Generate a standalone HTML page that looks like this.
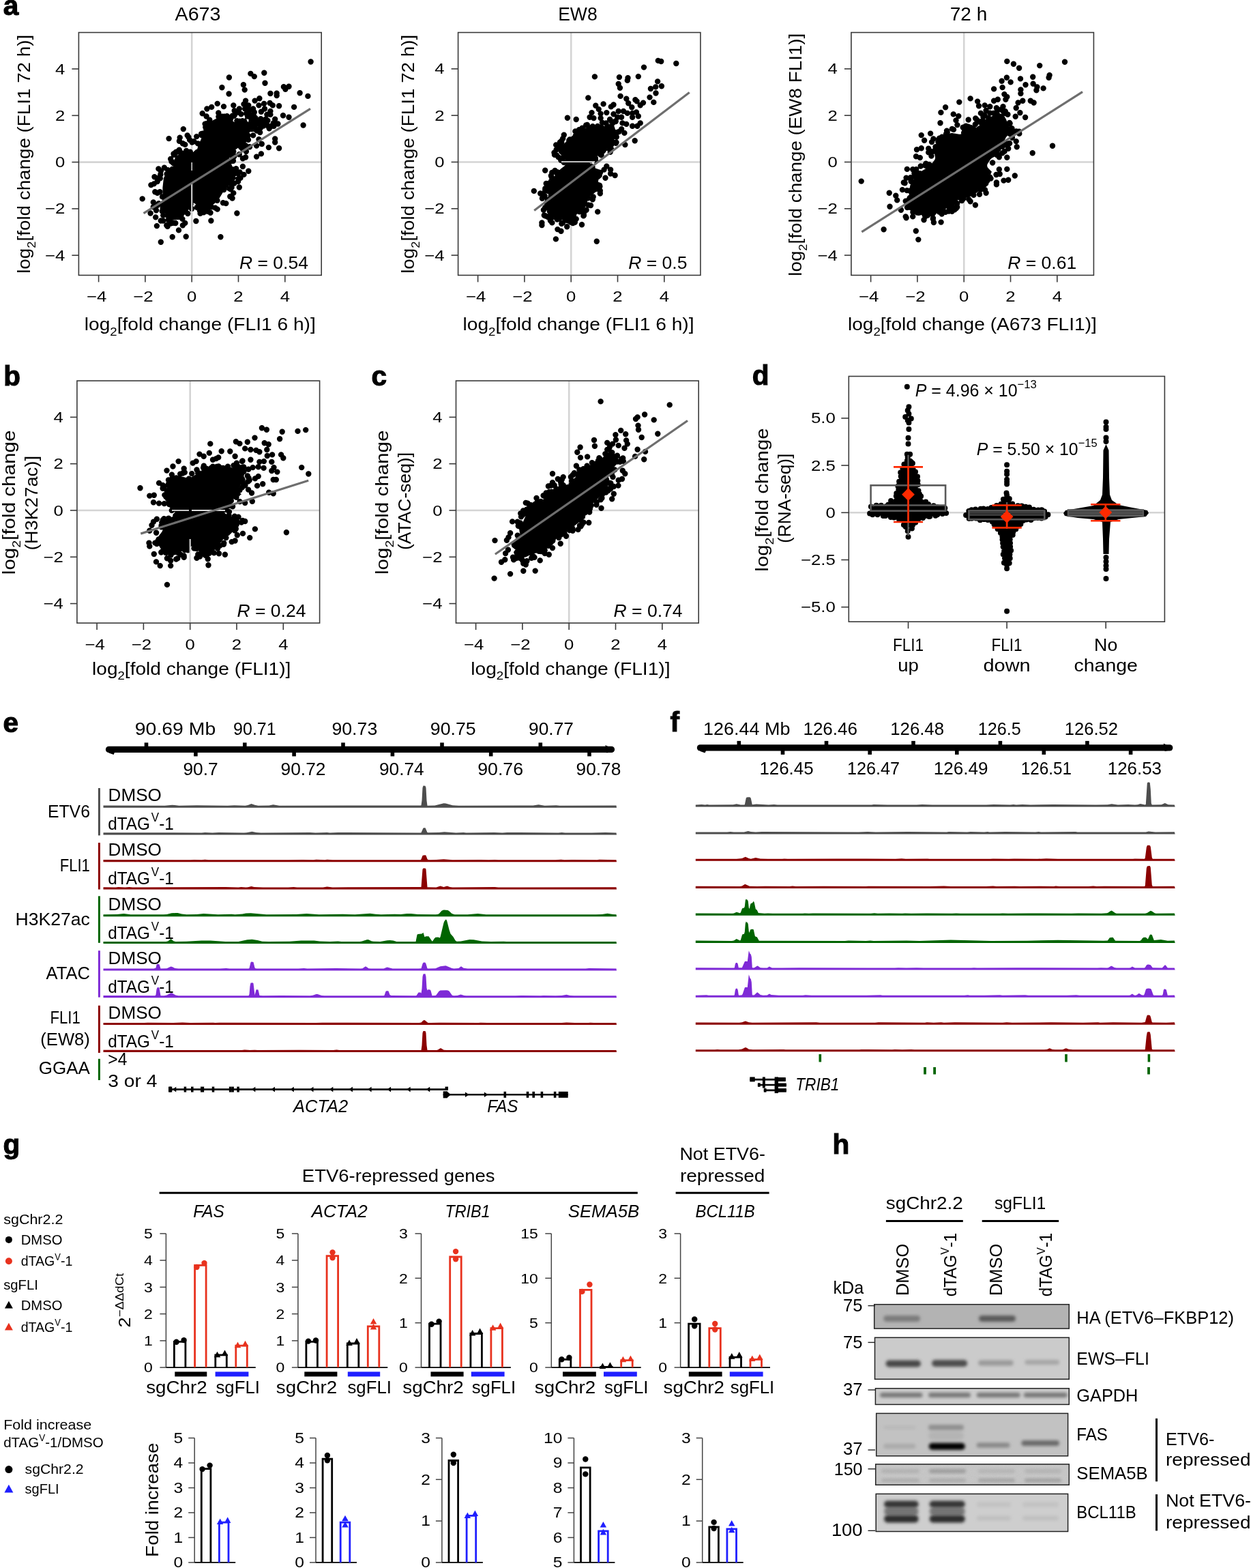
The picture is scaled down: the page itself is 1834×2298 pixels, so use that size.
<!DOCTYPE html>
<html><head><meta charset="utf-8"><style>
html,body{margin:0;padding:0;background:#fff;}
svg{display:block;}
text{font-family:'Liberation Sans', Arial, sans-serif;}
</style></head><body>
<svg width="1834" height="2298" viewBox="0 0 1834 2298">
<rect width="1834" height="2298" fill="#fff"/>
<line x1="281.2" y1="47.6" x2="281.2" y2="403.4" stroke="#d4d4d4" stroke-width="2.6"/>
<line x1="115.4" y1="237.6" x2="471.2" y2="237.6" stroke="#d4d4d4" stroke-width="2.6"/>
<mask id="m1"><path d="M298.4 181.5 308.5 171.3 320.3 165.4 332.2 164.5 340.6 167.9 347.4 174.7 354.2 169.6 359.2 164.5 366 167.9 367.7 174.7 374.5 171.3 382.9 174.7 393.1 174.7 399.8 178.1 403.2 184.8 398.1 188.2 388 188.2 379.5 191.6 372.8 195 367.7 201.7 366 208.5 359.2 215.3 354.2 220.3 347.4 225.4 342.3 232.2 345.7 240.6 349.1 249.1 349.1 259.2 345.7 269.4 338.9 277.8 332.2 284.6 327.1 293.1 322 299.8 313.6 306.6 303.4 313.3 295 315.9 286.5 311.7 282.3 303.2 279.8 304.9 276.4 315 273 323.5 264.5 327.7 254.4 328.6 245.9 326.9 239.2 320.1 234.1 311.7 230.7 301.5 232.4 289.7 232.4 274.5 234.1 259.2 239.2 249.1 247.6 242.3 254.4 232.2 256.1 222 262.9 217 271.3 215.3 278.1 222 281.5 223.7 284.8 211.9 289.9 200.1 295 188.2 Z" fill="#fff" stroke="#000" stroke-width="12" stroke-linejoin="round"/></mask>
<path d="M298.4 181.5 308.5 171.3 320.3 165.4 332.2 164.5 340.6 167.9 347.4 174.7 354.2 169.6 359.2 164.5 366 167.9 367.7 174.7 374.5 171.3 382.9 174.7 393.1 174.7 399.8 178.1 403.2 184.8 398.1 188.2 388 188.2 379.5 191.6 372.8 195 367.7 201.7 366 208.5 359.2 215.3 354.2 220.3 347.4 225.4 342.3 232.2 345.7 240.6 349.1 249.1 349.1 259.2 345.7 269.4 338.9 277.8 332.2 284.6 327.1 293.1 322 299.8 313.6 306.6 303.4 313.3 295 315.9 286.5 311.7 282.3 303.2 279.8 304.9 276.4 315 273 323.5 264.5 327.7 254.4 328.6 245.9 326.9 239.2 320.1 234.1 311.7 230.7 301.5 232.4 289.7 232.4 274.5 234.1 259.2 239.2 249.1 247.6 242.3 254.4 232.2 256.1 222 262.9 217 271.3 215.3 278.1 222 281.5 223.7 284.8 211.9 289.9 200.1 295 188.2 Z" fill="#000" mask="url(#m1)"/>
<path d="M364 204.9h0M368.5 177.5h0M295.8 198.4h0M318.5 293.9h0M237.7 309.5h0M339 265.7h0M273.3 304.7h0M348.8 254.2h0M343.5 228.7h0M386.1 184.6h0M240.8 308.8h0M275.3 313h0M347.4 177.1h0M302.9 181.2h0M246.1 316.4h0M344.1 168.3h0M400.8 180.5h0M279.6 296.2h0M381.7 187.8h0M259.5 235.1h0M274 302.5h0M343.1 169.7h0M363 170.4h0M300.6 181.6h0M339.7 264.5h0M401.5 184.8h0M282.1 229.5h0M295.1 196.2h0M310.1 303.4h0M300.1 308h0M343.5 268.6h0M257.3 327h0M356 213.5h0M288.8 304h0M351.3 177.7h0M355.3 217.7h0M284.8 226.7h0M238.6 304.5h0M342.6 230h0M260.7 231.4h0M355.5 177.1h0M376.6 176.7h0M266 224.1h0M351.6 252.5h0M328.2 278h0M320.3 165.5h0M284.3 207.3h0M325.7 170.7h0M344.5 254.1h0M234.4 281.3h0M252.6 247.9h0M365.5 171h0M320.4 171.1h0M254.5 225.5h0M366.8 181.8h0M354 215.7h0M302.3 190h0M297.2 195.7h0M358.2 218.7h0M273.2 220.9h0M304.3 309.8h0M238 288.4h0M349.5 262h0M279.5 299.3h0M392.5 184.3h0M239.2 315.6h0M376.6 191.6h0M287.8 224.2h0M341.5 260.6h0M338.1 174.3h0M357.3 206.2h0M251.5 236.7h0M361.1 166.4h0M339.4 226.8h0M342.3 222.1h0M360.2 213.6h0M293 211.5h0M382.3 174.2h0M337.9 268.6h0M298.2 197.3h0M353.5 213.8h0M275 224.9h0M246 249.1h0M363.6 198.7h0M346.4 181.8h0M254.4 239.4h0M339.6 274.8h0M249.2 322.8h0M271.8 305.7h0M293.6 312.9h0M304.8 309.7h0M262.8 219.8h0M340.8 169.8h0M336.3 276.4h0M332.8 170.3h0M269.5 310.6h0M338 236.3h0M306.7 303.6h0M260.2 237.9h0M327 297.3h0M386.4 178.8h0M253.8 326.7h0M384.3 179.1h0M359.9 213.1h0M356.9 215.9h0M289.2 223h0M336.8 226.9h0M372 177.4h0M353.1 215.5h0M392.4 176.8h0M329.1 170.8h0M301.9 307.7h0M290.1 304.6h0M341.9 235.8h0M389.5 180.4h0M338.5 236h0M250.1 327.5h0M235.3 255.9h0M367.8 189.1h0M382.2 176.8h0M272 307.1h0M304.4 305.9h0M293 309.1h0M350.8 226.2h0M382.1 183.9h0M259.5 222.5h0M274.9 302.6h0M232.7 260.6h0M315.5 304.6h0M232.7 298.1h0M388.6 175.8h0M352.8 214.4h0M341.5 248.5h0M307.3 175.7h0M290.1 210.4h0M271.7 309.4h0M390.8 175.9h0M298.6 311.2h0M234.8 261.4h0M332.4 171.9h0M339.3 274.2h0M338 277.4h0M267.4 320.9h0M304.6 303.6h0M278.8 222.6h0M230.5 301.1h0M254.9 226.9h0M244.6 254.9h0M367.9 171.4h0M377.9 181h0M281.1 306h0M353.4 167.3h0M274.8 226.9h0M236.9 299.8h0M374.8 189.8h0M301.3 186.4h0M346.1 247.1h0M246.8 322.5h0M367.4 168.6h0M373.1 178h0M374.3 188.6h0M372 170h0M309.6 181.5h0M265.4 318.4h0M303.8 185.7h0M370 189h0" stroke="#000" stroke-width="8.4" stroke-linecap="round" fill="none"/>
<path d="M455.6 90.5h0M367.4 107.9h0M372.8 112.1h0M387.3 106.7h0M335.9 113.5h0M356.9 124.3h0M358.7 131.6h0M388.5 121.8h0M325.4 128.2h0M335.6 137.5h0M396.4 137h0M405.7 136.6h0M405.7 140h0M415.9 127.3h0M423.5 126.8h0M418.4 130.7h0M439.6 136.3h0M451.4 140.9h0M431.1 156.9h0M409.1 155.2h0M444.6 183.5h0M415 169.3h0M423.5 171.8h0M380.4 144.3h0M373.6 147.6h0M360.1 147.6h0M357.5 152.7h0M364.3 154.4h0M387.1 151.9h0M395.6 151h0M399.8 154.4h0M342.3 154.4h0M343.7 162.3h0M318.7 151.9h0M328 156.1h0M310.2 156.9h0M303.4 159.5h0M296.7 166.2h0M302.6 170.5h0M379.5 154.4h0M382.9 163.7h0M396.4 162.9h0M396.4 167.9h0M403.2 174.7h0M407.4 181.5h0M398.1 184.8h0M394.7 188.2h0M389.7 174.7h0M384.6 181.5h0M374.5 173h0M372.8 181.5h0M379.5 189.9h0M381.2 194.1h0M403.2 203.4h0M403.2 208.5h0M393.9 216.1h0M409.1 217.3h0M383.8 211h0M376.1 213.6h0M382.9 225.4h0M376.1 229.6h0M360.1 230.5h0M379.5 204.3h0M364.3 250.8h0M355.9 244h0M357.5 255.9h0M350.8 274.5h0M340.6 290.5h0M331.3 298.1h0M347.4 312.5h0M309.4 323.5h0M323.4 347.2h0M287.4 324h0M272.7 346.8h0M252.7 347.2h0M262 337.4h0M235.8 354.8h0M229.9 331.1h0M245.6 331.9h0M208.7 291.4h0M221.4 271.1h0M225.7 269.4h0M227.3 281.2h0M226.5 259.2h0M232.4 247.4h0M220.6 312.5h0M228.2 318.4h0M239.2 323.5h0M224.8 296.4h0M250.2 233h0M247.6 203.1h0M263.7 201.7h0M262.9 206.8h0M268.8 189.1h0M276.4 200.9h0M278.1 205.1h0M288.2 200.1h0M281.5 208.5h0M271.3 211.9h0M257.8 222.9h0M256.1 225.4h0M371.1 159.5h0M366 161.2h0M359.2 159.5h0M350.8 159.5h0M349.1 164.5h0M372.8 164.5h0M388 159.5h0M391.4 167.9h0M367.7 188.2h0M362.6 198.4h0M371.1 198.4h0M355.9 232.2h0M360.9 222h0M366 215.3h0M352.5 260.9h0M349.1 266h0M342.3 282.9h0M337.3 288h0M318.7 306.6h0M308.5 311.7h0M267.9 330.3h0M271.3 326.9h0M244.3 330.3h0M235.8 323.5h0M229 308.3h0M224.8 303.2h0M230.7 282.9h0M230.7 266h0M235.8 250.8h0M240.9 245.7h0M267.9 210.2h0M274.7 198.4h0" stroke="#000" stroke-width="8.4" stroke-linecap="round" fill="none"/>
<line x1="281.2" y1="268" x2="281.2" y2="312" stroke="#dcdcdc" stroke-width="2"/>
<line x1="281.2" y1="238" x2="281.2" y2="250" stroke="#dcdcdc" stroke-width="1.5"/>
<line x1="210.5" y1="312.7" x2="455" y2="159.4" stroke="#6e6e6e" stroke-width="3.2"/>
<rect x="115.4" y="47.6" width="355.8" height="355.8" fill="none" stroke="#3a3a3a" stroke-width="1.6"/>
<line x1="144.6" y1="403.4" x2="144.6" y2="413.4" stroke="#3a3a3a" stroke-width="1.6"/>
<text x="141.6" y="442.4" font-size="21.5" text-anchor="middle" textLength="29.4" lengthAdjust="spacingAndGlyphs">−4</text>
<line x1="212.9" y1="403.4" x2="212.9" y2="413.4" stroke="#3a3a3a" stroke-width="1.6"/>
<text x="209.9" y="442.4" font-size="21.5" text-anchor="middle" textLength="29.4" lengthAdjust="spacingAndGlyphs">−2</text>
<line x1="281.2" y1="403.4" x2="281.2" y2="413.4" stroke="#3a3a3a" stroke-width="1.6"/>
<text x="281.2" y="442.4" font-size="21.5" text-anchor="middle" textLength="14.3" lengthAdjust="spacingAndGlyphs">0</text>
<line x1="349.5" y1="403.4" x2="349.5" y2="413.4" stroke="#3a3a3a" stroke-width="1.6"/>
<text x="349.5" y="442.4" font-size="21.5" text-anchor="middle" textLength="14.3" lengthAdjust="spacingAndGlyphs">2</text>
<line x1="417.8" y1="403.4" x2="417.8" y2="413.4" stroke="#3a3a3a" stroke-width="1.6"/>
<text x="417.8" y="442.4" font-size="21.5" text-anchor="middle" textLength="14.3" lengthAdjust="spacingAndGlyphs">4</text>
<line x1="105.4" y1="374.2" x2="115.4" y2="374.2" stroke="#3a3a3a" stroke-width="1.6"/>
<text x="95.4" y="381.7" font-size="21.5" text-anchor="end" textLength="29.4" lengthAdjust="spacingAndGlyphs">−4</text>
<line x1="105.4" y1="305.9" x2="115.4" y2="305.9" stroke="#3a3a3a" stroke-width="1.6"/>
<text x="95.4" y="313.4" font-size="21.5" text-anchor="end" textLength="29.4" lengthAdjust="spacingAndGlyphs">−2</text>
<line x1="105.4" y1="237.6" x2="115.4" y2="237.6" stroke="#3a3a3a" stroke-width="1.6"/>
<text x="95.4" y="245.1" font-size="21.5" text-anchor="end" textLength="14.3" lengthAdjust="spacingAndGlyphs">0</text>
<line x1="105.4" y1="169.3" x2="115.4" y2="169.3" stroke="#3a3a3a" stroke-width="1.6"/>
<text x="95.4" y="176.8" font-size="21.5" text-anchor="end" textLength="14.3" lengthAdjust="spacingAndGlyphs">2</text>
<line x1="105.4" y1="101" x2="115.4" y2="101" stroke="#3a3a3a" stroke-width="1.6"/>
<text x="95.4" y="108.5" font-size="21.5" text-anchor="end" textLength="14.3" lengthAdjust="spacingAndGlyphs">4</text>
<text x="451.9" y="393.8" font-size="26.5" text-anchor="end"><tspan font-style="italic">R</tspan> = 0.54</text>
<line x1="837.2" y1="47.6" x2="837.2" y2="403.4" stroke="#d4d4d4" stroke-width="2.6"/>
<line x1="671.6" y1="237.5" x2="1026.9" y2="237.5" stroke="#d4d4d4" stroke-width="2.6"/>
<mask id="m2"><path d="M813.7 212.4 821 208 828.3 200.7 838.4 197.8 847.2 190.6 853 183.3 861.7 180.4 870.4 181.9 880.6 180.4 890.7 176 899.5 174.6 905.3 180.4 908.2 189.1 914 193.5 909.6 200.7 905.3 208 899.5 213.8 895.1 221.1 889.3 226.9 883.5 231.2 876.2 235.6 870.4 237.1 876.2 241.4 884.9 244.3 886.4 253 883.5 263.2 882 273.4 880.6 283.5 874.8 287.9 867.5 293.7 866 302.4 860.2 311.1 853 316.9 844.3 321.3 835.5 327.1 822.5 328.6 810.8 325.7 802.1 321.3 796.3 314 794.9 305.3 796.3 296.6 797.8 285 799.2 273.4 803.6 263.2 806.5 257.4 810.8 250.1 818.1 242.9 823.9 238.5 819.6 232.7 813.7 226.9 812.3 219.6 Z" fill="#fff" stroke="#000" stroke-width="12" stroke-linejoin="round"/></mask>
<path d="M813.7 212.4 821 208 828.3 200.7 838.4 197.8 847.2 190.6 853 183.3 861.7 180.4 870.4 181.9 880.6 180.4 890.7 176 899.5 174.6 905.3 180.4 908.2 189.1 914 193.5 909.6 200.7 905.3 208 899.5 213.8 895.1 221.1 889.3 226.9 883.5 231.2 876.2 235.6 870.4 237.1 876.2 241.4 884.9 244.3 886.4 253 883.5 263.2 882 273.4 880.6 283.5 874.8 287.9 867.5 293.7 866 302.4 860.2 311.1 853 316.9 844.3 321.3 835.5 327.1 822.5 328.6 810.8 325.7 802.1 321.3 796.3 314 794.9 305.3 796.3 296.6 797.8 285 799.2 273.4 803.6 263.2 806.5 257.4 810.8 250.1 818.1 242.9 823.9 238.5 819.6 232.7 813.7 226.9 812.3 219.6 Z" fill="#000" mask="url(#m2)"/>
<path d="M821 208.5h0M843.7 199.3h0M879.8 279.5h0M866.1 234.6h0M899.5 208.7h0M816.9 252.3h0M868.5 244.9h0M876.1 184.9h0M894.1 174.9h0M876.7 258.7h0M873 234.8h0M830.7 321.9h0M879.9 253h0M835.3 204.5h0M804.9 278.1h0M834.3 205.7h0M808.8 259.8h0M902.6 178h0M804.7 317.3h0M866.5 243.6h0M860.8 182.9h0M894.7 222.7h0M809.6 317.2h0M846 196.9h0M859.6 307.8h0M855.9 312h0M823.2 206.4h0M881.6 227.3h0M812.5 223.7h0M806.8 267.7h0M853.3 308.5h0M872.9 232h0M853.5 187.6h0M881.3 224.4h0M897 178.4h0M843.5 203.5h0M823.3 327.8h0M898.5 180h0M847.3 192.1h0M803.2 299.6h0M883.5 221.7h0M864.9 188.3h0M895.9 218.2h0M810.5 317.9h0M837.1 322.3h0M882.9 179.6h0M796.9 307.8h0M815.6 219.5h0M885.6 248.6h0M848.9 190.2h0M881.5 186.2h0M876.5 185.5h0M855.4 316.4h0M840.2 316.4h0M820.5 215.5h0M843.4 192.4h0M818.7 230.4h0M878.7 257.1h0M868.9 185.1h0M882.6 188.1h0M841.8 321h0M832.1 323.4h0M876.8 270.9h0M841.1 315.3h0M823.2 214.9h0M811.4 317.7h0M903 197.2h0M806.6 267.7h0M872.3 232.3h0M844.7 320.9h0M796.5 284.2h0M809.3 252.9h0M894.4 210.8h0M888.5 180.5h0M879.4 273.2h0M881.5 187.5h0M806.8 274.6h0M826.7 238.1h0M844.1 198.4h0M840.5 203.7h0M869.7 288.5h0M850.4 195.4h0M840.8 202.9h0M801.5 297.4h0M859.2 183.5h0M802.9 304h0M868.8 292.3h0M799.2 304.1h0M870.6 188.1h0M817.9 252.8h0M907.4 193h0M803.6 280.1h0M815.6 253.1h0M799.9 316.5h0M810.3 316.6h0M825.1 326.6h0M818.2 215.9h0M831.3 319.7h0M808.1 265.5h0M825.2 203h0M819.4 320.8h0M802.5 302.3h0M829 320.8h0M880.4 226.6h0M862.4 300.5h0M903.5 208.7h0M879 271.7h0M884.7 220.6h0M849.6 310.2h0M816.8 321.6h0M822.3 234.7h0M854.6 310.8h0M825 231.2h0M855.8 192.3h0M823.3 208.9h0M902.8 209.8h0M819.4 217.4h0M816.2 227.6h0M801.8 269.5h0M836.4 325.6h0M806.9 323.3h0M903.3 194.1h0M802.8 274.6h0M896.2 212h0M862.2 290.3h0M877.9 277.5h0M802.9 292.9h0M813.6 250h0M799.3 276.3h0M890.4 216.8h0M798.6 287.1h0M840.6 317.6h0" stroke="#000" stroke-width="8.4" stroke-linecap="round" fill="none"/>
<path d="M964.8 88.9h0M969.2 90h0M991.3 93h0M944 98.6h0M871.9 112.4h0M907.9 113.1h0M920.5 114.3h0M919.8 117.9h0M935.8 112.1h0M964.1 119.4h0M969.9 126.2h0M961.2 127.4h0M953.9 130h0M961.5 136.5h0M906.7 123h0M908.9 128.8h0M909.6 140.9h0M918.3 144.8h0M931.4 146.3h0M933.6 148.4h0M952.5 142.6h0M958.3 149.9h0M943 150.6h0M938.7 154.3h0M862.3 143.4h0M873.3 154.7h0M884.6 152.4h0M899.5 153.5h0M895.8 156.4h0M921.2 151.3h0M926.3 157.2h0M867.5 165.1h0M877.7 160.1h0M880.6 166.6h0M880.6 173.1h0M889.3 165.1h0M899.5 167.3h0M906.7 163h0M914 163h0M911.1 171.7h0M919.8 165.9h0M927.1 165.9h0M932.9 164.4h0M935.8 170.2h0M927.1 171.7h0M938.7 180.4h0M934.3 184.8h0M927.1 184.8h0M918.3 181.9h0M912.5 180.4h0M915.4 194.9h0M930.7 206.3h0M916.4 212.1h0M864.6 171.7h0M870.4 173.1h0M831.9 172.7h0M844.7 175h0M826.8 197.8h0M815.2 212.4h0M813 226.9h0M799.2 249.7h0M782.8 279.9h0M792.2 283.5h0M794.9 290.8h0M889.3 243.6h0M895.1 248.7h0M901.6 257h0M895.1 254.5h0M887.5 260.7h0M879.8 283.5h0M876.2 310.4h0M866 301h0M855.9 315.5h0M853 329.3h0M842.8 325.7h0M839.9 327.1h0M831.2 332.2h0M822.5 338.7h0M817.4 336.1h0M809.4 326.4h0M794.4 326.4h0M794.4 330h0M797.8 315.5h0M803.6 318.4h0M814.9 350.4h0M874.8 353.7h0M807.9 257.4h0M800.7 269h0M799.2 279.2h0M905.3 171.7h0M902.4 177.5h0M911.1 189.1h0M903.8 200.7h0" stroke="#000" stroke-width="8.4" stroke-linecap="round" fill="none"/>
<line x1="823" y1="237.2" x2="872" y2="237.2" stroke="#dcdcdc" stroke-width="1.8"/>
<line x1="783.2" y1="308.5" x2="1010.7" y2="135.4" stroke="#6e6e6e" stroke-width="3.2"/>
<rect x="671.6" y="47.6" width="355.3" height="355.8" fill="none" stroke="#3a3a3a" stroke-width="1.6"/>
<line x1="700.6" y1="403.4" x2="700.6" y2="413.4" stroke="#3a3a3a" stroke-width="1.6"/>
<text x="697.6" y="442.4" font-size="21.5" text-anchor="middle" textLength="29.4" lengthAdjust="spacingAndGlyphs">−4</text>
<line x1="768.9" y1="403.4" x2="768.9" y2="413.4" stroke="#3a3a3a" stroke-width="1.6"/>
<text x="765.9" y="442.4" font-size="21.5" text-anchor="middle" textLength="29.4" lengthAdjust="spacingAndGlyphs">−2</text>
<line x1="837.2" y1="403.4" x2="837.2" y2="413.4" stroke="#3a3a3a" stroke-width="1.6"/>
<text x="837.2" y="442.4" font-size="21.5" text-anchor="middle" textLength="14.3" lengthAdjust="spacingAndGlyphs">0</text>
<line x1="905.5" y1="403.4" x2="905.5" y2="413.4" stroke="#3a3a3a" stroke-width="1.6"/>
<text x="905.5" y="442.4" font-size="21.5" text-anchor="middle" textLength="14.3" lengthAdjust="spacingAndGlyphs">2</text>
<line x1="973.8" y1="403.4" x2="973.8" y2="413.4" stroke="#3a3a3a" stroke-width="1.6"/>
<text x="973.8" y="442.4" font-size="21.5" text-anchor="middle" textLength="14.3" lengthAdjust="spacingAndGlyphs">4</text>
<line x1="661.6" y1="374.1" x2="671.6" y2="374.1" stroke="#3a3a3a" stroke-width="1.6"/>
<text x="651.6" y="381.6" font-size="21.5" text-anchor="end" textLength="29.4" lengthAdjust="spacingAndGlyphs">−4</text>
<line x1="661.6" y1="305.8" x2="671.6" y2="305.8" stroke="#3a3a3a" stroke-width="1.6"/>
<text x="651.6" y="313.3" font-size="21.5" text-anchor="end" textLength="29.4" lengthAdjust="spacingAndGlyphs">−2</text>
<line x1="661.6" y1="237.5" x2="671.6" y2="237.5" stroke="#3a3a3a" stroke-width="1.6"/>
<text x="651.6" y="245" font-size="21.5" text-anchor="end" textLength="14.3" lengthAdjust="spacingAndGlyphs">0</text>
<line x1="661.6" y1="169.2" x2="671.6" y2="169.2" stroke="#3a3a3a" stroke-width="1.6"/>
<text x="651.6" y="176.7" font-size="21.5" text-anchor="end" textLength="14.3" lengthAdjust="spacingAndGlyphs">2</text>
<line x1="661.6" y1="100.9" x2="671.6" y2="100.9" stroke="#3a3a3a" stroke-width="1.6"/>
<text x="651.6" y="108.4" font-size="21.5" text-anchor="end" textLength="14.3" lengthAdjust="spacingAndGlyphs">4</text>
<text x="1007.4" y="393.8" font-size="26.5" text-anchor="end"><tspan font-style="italic">R</tspan> = 0.5</text>
<line x1="1413.2" y1="47.6" x2="1413.2" y2="403.4" stroke="#d4d4d4" stroke-width="2.6"/>
<line x1="1247.9" y1="237.5" x2="1603.4" y2="237.5" stroke="#d4d4d4" stroke-width="2.6"/>
<mask id="m3"><path d="M1368.9 204.2 1376.6 196.6 1384.2 190.8 1395.7 188.9 1407.2 190.8 1414.9 185.1 1426.4 183.1 1434.1 177.4 1441.8 169.7 1453.3 164 1464.8 160.1 1474.4 162 1480.1 171.6 1483.9 181.2 1493.5 185.1 1497.4 190.8 1489.7 196.6 1480.1 204.2 1476.3 211.9 1472.4 223.4 1464.8 233 1457.1 236.8 1453.3 242.6 1460.9 250.2 1457.1 259.8 1451.3 271.3 1447.5 280.9 1436 286.7 1428.3 292.4 1416.8 296.3 1403.4 300.1 1399.6 307.8 1388.1 311.6 1378.5 315.4 1372.7 323.1 1363.1 323.1 1353.5 319.3 1342 315.4 1330.5 309.7 1322.9 302 1326.7 292.4 1326.7 280.9 1328.6 269.4 1334.4 259.8 1338.2 252.2 1349.7 244.5 1359.3 238.7 1365.1 231.1 1363.1 221.5 Z" fill="#fff" stroke="#000" stroke-width="12" stroke-linejoin="round"/></mask>
<path d="M1368.9 204.2 1376.6 196.6 1384.2 190.8 1395.7 188.9 1407.2 190.8 1414.9 185.1 1426.4 183.1 1434.1 177.4 1441.8 169.7 1453.3 164 1464.8 160.1 1474.4 162 1480.1 171.6 1483.9 181.2 1493.5 185.1 1497.4 190.8 1489.7 196.6 1480.1 204.2 1476.3 211.9 1472.4 223.4 1464.8 233 1457.1 236.8 1453.3 242.6 1460.9 250.2 1457.1 259.8 1451.3 271.3 1447.5 280.9 1436 286.7 1428.3 292.4 1416.8 296.3 1403.4 300.1 1399.6 307.8 1388.1 311.6 1378.5 315.4 1372.7 323.1 1363.1 323.1 1353.5 319.3 1342 315.4 1330.5 309.7 1322.9 302 1326.7 292.4 1326.7 280.9 1328.6 269.4 1334.4 259.8 1338.2 252.2 1349.7 244.5 1359.3 238.7 1365.1 231.1 1363.1 221.5 Z" fill="#000" mask="url(#m3)"/>
<path d="M1388.7 193.7h0M1396.1 297.4h0M1463.8 227.1h0M1330 304.1h0M1355.9 242.4h0M1441.4 171.2h0M1415.1 185.5h0M1395.8 188.9h0M1467.3 160.6h0M1413.1 194.8h0M1398 189.9h0M1381.9 306.2h0M1484.3 193.1h0M1480 180h0M1333.1 303.5h0M1469.4 214.7h0M1338.4 311h0M1337.9 267.3h0M1444.1 269h0M1410.4 291.5h0M1345.4 311h0M1376.9 309.7h0M1381 200.7h0M1469.5 224.3h0M1423 186.9h0M1456.6 165.9h0M1464.8 230.3h0M1341.4 258.6h0M1388 191.6h0M1403.2 298.2h0M1393 302.7h0M1437.7 277.7h0M1476.3 212.8h0M1451.3 259.6h0M1392.1 305.8h0M1347.4 311.5h0M1471.6 164.4h0M1473.7 166h0M1327.7 294.8h0M1376.5 207.5h0M1346.7 311.7h0M1483.5 188.3h0M1451.3 165.6h0M1375.4 208.1h0M1472.6 221.9h0M1455.1 238.5h0M1449.1 172.6h0M1494.3 195.9h0M1441.1 177.2h0M1429.8 182.3h0M1333.8 279.6h0M1377.1 202.6h0M1411.7 186.7h0M1348 311.5h0M1380.4 307.3h0M1341.1 258.7h0M1459.2 166.5h0M1376.2 204.1h0M1416.9 190.7h0M1333.8 290h0M1343.2 248.1h0M1363.4 221.6h0M1330.4 297.1h0M1357.4 242.9h0M1343.3 251.7h0M1427.3 189.2h0M1414.1 190.4h0M1402.6 298.1h0M1346.5 310.3h0M1340.4 254.1h0M1410.1 294.1h0M1367.8 320.9h0M1343.3 256.3h0M1480.9 196.4h0M1436.4 178.8h0M1403.2 303.5h0M1355.8 315.6h0M1363.8 223.8h0M1387.1 196.1h0M1478.4 181.8h0M1371.5 215.3h0M1439.9 177.3h0M1365.4 228.6h0M1332.9 291.9h0M1474.4 209.5h0M1443.4 168.8h0M1494 192.6h0M1472.9 212.4h0M1480.6 180.9h0M1397.9 304.4h0M1335.6 265.9h0M1352.4 311.2h0M1419.5 185.8h0M1452.5 261.6h0M1329.6 279.1h0M1473.8 163.3h0M1420.3 292.1h0M1399.6 307.3h0M1401.8 305.4h0M1377.9 204.5h0M1489.9 192.4h0M1341.5 256h0M1362.3 241.1h0M1344.8 308.1h0M1440.3 181.2h0M1419 191.9h0M1461.7 227.3h0M1445.3 268.8h0M1460.5 256h0M1338.9 310.3h0M1484.3 196.7h0M1367.9 319.6h0M1398.7 293.9h0M1476.5 211.5h0M1335 260.3h0M1376.9 310.6h0M1412.2 291.3h0M1361.5 245.6h0M1417.4 189.6h0M1483.9 201.8h0M1443.7 270.1h0M1344.6 311.5h0M1417.2 190.1h0M1391 309.5h0M1422.7 189.4h0M1416.2 184.6h0M1471.2 163.8h0M1477.4 167.8h0M1444 278.1h0M1335.1 262.8h0M1360 315.5h0M1380.7 313.5h0M1371.6 217.8h0M1461.6 166.9h0M1356.7 317.1h0M1367.5 222.1h0M1447.4 264.8h0M1427.4 285.9h0M1368.4 203.5h0M1461.1 164.1h0M1326.6 268.2h0M1348.6 254.1h0M1469.4 224.4h0M1335.6 304.4h0M1358 313h0M1432.5 176h0" stroke="#000" stroke-width="8.4" stroke-linecap="round" fill="none"/>
<path d="M1561 90.7h0M1476.3 89.9h0M1485.9 93.8h0M1494.1 99.7h0M1524.2 96.1h0M1514.2 112.8h0M1538.6 110.3h0M1537.6 113.7h0M1475.9 113.7h0M1468.6 118.7h0M1481.6 120.4h0M1496 115.4h0M1503.5 124.3h0M1514.6 122.7h0M1520.4 127.5h0M1529.6 129.4h0M1519.4 132.3h0M1457.1 130.4h0M1469.6 128.1h0M1496.4 131.4h0M1496.4 137.1h0M1472.4 138.1h0M1476.3 141.9h0M1474.4 145.7h0M1499.3 147.7h0M1492.6 150.5h0M1510.8 147.7h0M1515.6 150.5h0M1489.7 158.2h0M1495.4 165.3h0M1503.1 172h0M1488.7 170.7h0M1422.6 144.4h0M1406.3 149.6h0M1433.1 148.6h0M1435 155.3h0M1443.7 154.4h0M1451.3 156.3h0M1457.1 147.7h0M1462.8 145.7h0M1386.1 157.2h0M1379.4 164.9h0M1397.7 167.4h0M1405.3 170.1h0M1401.5 176.4h0M1419.7 175.5h0M1378.5 180.3h0M1403.4 183.1h0M1364.1 195.6h0M1350.7 198.1h0M1355.1 205.8h0M1366 208.1h0M1344 219.2h0M1350.7 217.3h0M1343 229.2h0M1348.8 231.1h0M1361.2 217.7h0M1361.2 223.4h0M1489.7 207.1h0M1490.7 215.3h0M1480.1 210h0M1478.2 217.7h0M1476.3 230.7h0M1543 213.8h0M1513.7 224.2h0M1476.3 247.9h0M1487.8 257.5h0M1478.2 263.7h0M1471.5 264.6h0M1460.9 267.5h0M1460.9 270.4h0M1464.8 248.3h0M1465.7 255h0M1445.6 282.8h0M1436 284.8h0M1429.9 300.5h0M1422.6 295.3h0M1329.8 247.9h0M1338.2 248.3h0M1349.7 243.5h0M1357.4 239.7h0M1328.6 260.8h0M1324.8 267.5h0M1322.9 278.1h0M1313.3 286.7h0M1303.7 282.8h0M1315.2 293.4h0M1304.5 302.8h0M1320.9 307.8h0M1327.7 317.4h0M1328.6 319.3h0M1338.2 317.4h0M1354.5 322.2h0M1368.9 326h0M1379.6 325.6h0M1386.1 310.7h0M1395.7 309.7h0M1295.6 336.3h0M1342.8 338.5h0M1346.3 351.1h0M1262.7 265.6h0M1445.6 162h0M1460.9 158.2h0M1470.5 156.3h0M1437.9 165.9h0M1430.2 173.5h0" stroke="#000" stroke-width="8.4" stroke-linecap="round" fill="none"/>
<line x1="1263.3" y1="339.9" x2="1587" y2="134.7" stroke="#6e6e6e" stroke-width="3.2"/>
<rect x="1247.9" y="47.6" width="355.5" height="355.8" fill="none" stroke="#3a3a3a" stroke-width="1.6"/>
<line x1="1276.6" y1="403.4" x2="1276.6" y2="413.4" stroke="#3a3a3a" stroke-width="1.6"/>
<text x="1273.6" y="442.4" font-size="21.5" text-anchor="middle" textLength="29.4" lengthAdjust="spacingAndGlyphs">−4</text>
<line x1="1344.9" y1="403.4" x2="1344.9" y2="413.4" stroke="#3a3a3a" stroke-width="1.6"/>
<text x="1341.9" y="442.4" font-size="21.5" text-anchor="middle" textLength="29.4" lengthAdjust="spacingAndGlyphs">−2</text>
<line x1="1413.2" y1="403.4" x2="1413.2" y2="413.4" stroke="#3a3a3a" stroke-width="1.6"/>
<text x="1413.2" y="442.4" font-size="21.5" text-anchor="middle" textLength="14.3" lengthAdjust="spacingAndGlyphs">0</text>
<line x1="1481.5" y1="403.4" x2="1481.5" y2="413.4" stroke="#3a3a3a" stroke-width="1.6"/>
<text x="1481.5" y="442.4" font-size="21.5" text-anchor="middle" textLength="14.3" lengthAdjust="spacingAndGlyphs">2</text>
<line x1="1549.8" y1="403.4" x2="1549.8" y2="413.4" stroke="#3a3a3a" stroke-width="1.6"/>
<text x="1549.8" y="442.4" font-size="21.5" text-anchor="middle" textLength="14.3" lengthAdjust="spacingAndGlyphs">4</text>
<line x1="1237.9" y1="374.1" x2="1247.9" y2="374.1" stroke="#3a3a3a" stroke-width="1.6"/>
<text x="1227.9" y="381.6" font-size="21.5" text-anchor="end" textLength="29.4" lengthAdjust="spacingAndGlyphs">−4</text>
<line x1="1237.9" y1="305.8" x2="1247.9" y2="305.8" stroke="#3a3a3a" stroke-width="1.6"/>
<text x="1227.9" y="313.3" font-size="21.5" text-anchor="end" textLength="29.4" lengthAdjust="spacingAndGlyphs">−2</text>
<line x1="1237.9" y1="237.5" x2="1247.9" y2="237.5" stroke="#3a3a3a" stroke-width="1.6"/>
<text x="1227.9" y="245" font-size="21.5" text-anchor="end" textLength="14.3" lengthAdjust="spacingAndGlyphs">0</text>
<line x1="1237.9" y1="169.2" x2="1247.9" y2="169.2" stroke="#3a3a3a" stroke-width="1.6"/>
<text x="1227.9" y="176.7" font-size="21.5" text-anchor="end" textLength="14.3" lengthAdjust="spacingAndGlyphs">2</text>
<line x1="1237.9" y1="100.9" x2="1247.9" y2="100.9" stroke="#3a3a3a" stroke-width="1.6"/>
<text x="1227.9" y="108.4" font-size="21.5" text-anchor="end" textLength="14.3" lengthAdjust="spacingAndGlyphs">4</text>
<text x="1578.2" y="393.8" font-size="26.5" text-anchor="end"><tspan font-style="italic">R</tspan> = 0.61</text>
<text x="4.8" y="21.5" font-size="40.5" font-weight="bold" stroke="#000" stroke-width="1.1">a</text>
<text x="290" y="29.7" font-size="28.5" text-anchor="middle" textLength="67" lengthAdjust="spacingAndGlyphs">A673</text>
<text x="846.9" y="29.7" font-size="28.5" text-anchor="middle" textLength="57.5" lengthAdjust="spacingAndGlyphs">EW8</text>
<text x="1420" y="29.7" font-size="28.5" text-anchor="middle" textLength="54.5" lengthAdjust="spacingAndGlyphs">72 h</text>
<text x="293.3" y="484.2" font-size="26" text-anchor="middle" textLength="339" lengthAdjust="spacingAndGlyphs">log<tspan font-size="17.2" dy="7.8">2</tspan><tspan dy="-7.8">[fold change (FLI1 6 h)]</tspan></text>
<text x="848" y="484.2" font-size="26" text-anchor="middle" textLength="339" lengthAdjust="spacingAndGlyphs">log<tspan font-size="17.2" dy="7.8">2</tspan><tspan dy="-7.8">[fold change (FLI1 6 h)]</tspan></text>
<text x="1425.4" y="484.2" font-size="26" text-anchor="middle" textLength="364.8" lengthAdjust="spacingAndGlyphs">log<tspan font-size="17.2" dy="7.8">2</tspan><tspan dy="-7.8">[fold change (A673 FLI1)]</tspan></text>
<text x="44" y="225.8" font-size="26" text-anchor="middle" textLength="350" lengthAdjust="spacingAndGlyphs" transform="rotate(-90 44 225.8)">log<tspan font-size="17.2" dy="7.8">2</tspan><tspan dy="-7.8">[fold change (FLI1 72 h)]</tspan></text>
<text x="607.5" y="225.8" font-size="26" text-anchor="middle" textLength="350" lengthAdjust="spacingAndGlyphs" transform="rotate(-90 607.5 225.8)">log<tspan font-size="17.2" dy="7.8">2</tspan><tspan dy="-7.8">[fold change (FLI1 72 h)]</tspan></text>
<text x="1175.4" y="226.7" font-size="26" text-anchor="middle" textLength="356" lengthAdjust="spacingAndGlyphs" transform="rotate(-90 1175.4 226.7)">log<tspan font-size="17.2" dy="7.8">2</tspan><tspan dy="-7.8">[fold change (EW8 FLI1)]</tspan></text>
<line x1="278.7" y1="558.1" x2="278.7" y2="913.1" stroke="#d4d4d4" stroke-width="2.6"/>
<line x1="112.9" y1="748" x2="468.6" y2="748" stroke="#d4d4d4" stroke-width="2.6"/>
<mask id="m4"><path d="M238.8 711.1 245.3 699.7 255.1 693.2 264.8 691.6 276.2 694.8 287.6 688.3 297.4 685.1 307.1 681.8 316.9 683.5 325 680.2 333.2 675.3 342.9 680.2 351.1 681.8 356 673.7 360.8 685.1 365.7 691.6 362.5 701.4 359.2 711.1 356 717.6 360.8 724.1 356 730.6 351.1 733.9 344.6 737.1 339.7 743.7 334.8 748.5 341.3 753.4 349.5 758.3 356 763.2 351.1 769.7 349.5 776.2 346.2 782.7 339.7 789.2 333.2 792.5 328.3 799 321.8 805.5 313.7 810.4 305.5 815.2 297.4 816.9 289.3 815.2 284.4 808.7 279.5 799 276.2 805.5 269.7 813.6 261.6 818.5 251.8 820.1 242.1 816.9 232.3 810.4 227.4 802.2 224.2 792.5 227.4 782.7 232.3 776.2 227.4 769.7 232.3 763.2 238.8 758.3 246.9 753.4 253.5 750.2 245.3 745.3 240.4 738.8 238.8 730.6 237.2 720.9 Z" fill="#fff" stroke="#000" stroke-width="12" stroke-linejoin="round"/></mask>
<path d="M238.8 711.1 245.3 699.7 255.1 693.2 264.8 691.6 276.2 694.8 287.6 688.3 297.4 685.1 307.1 681.8 316.9 683.5 325 680.2 333.2 675.3 342.9 680.2 351.1 681.8 356 673.7 360.8 685.1 365.7 691.6 362.5 701.4 359.2 711.1 356 717.6 360.8 724.1 356 730.6 351.1 733.9 344.6 737.1 339.7 743.7 334.8 748.5 341.3 753.4 349.5 758.3 356 763.2 351.1 769.7 349.5 776.2 346.2 782.7 339.7 789.2 333.2 792.5 328.3 799 321.8 805.5 313.7 810.4 305.5 815.2 297.4 816.9 289.3 815.2 284.4 808.7 279.5 799 276.2 805.5 269.7 813.6 261.6 818.5 251.8 820.1 242.1 816.9 232.3 810.4 227.4 802.2 224.2 792.5 227.4 782.7 232.3 776.2 227.4 769.7 232.3 763.2 238.8 758.3 246.9 753.4 253.5 750.2 245.3 745.3 240.4 738.8 238.8 730.6 237.2 720.9 Z" fill="#000" mask="url(#m4)"/>
<path d="M301.1 813.9h0M283.5 797.2h0M338.8 733.9h0M336 750.1h0M349.5 757.6h0M247.3 759.8h0M320.5 683.4h0M237.3 765.9h0M236.6 772.2h0M271.9 805.2h0M355.6 703.2h0M302.5 686.6h0M304.5 811.7h0M320.1 684.7h0M236.3 809.5h0M364.3 687.7h0M297.1 810.8h0M355.5 675.5h0M247.5 736.6h0M351.5 718.2h0M346.4 727.3h0M247.2 708.9h0M260.6 809.8h0M345.4 771.3h0M277.6 793.1h0M238.8 762.3h0M238.6 715.7h0M249.2 737.6h0M334.6 757.7h0M276.9 701.8h0M353.9 765.6h0M298.9 691.8h0M344.8 688.7h0M306.8 810.8h0M243.6 810h0M354.9 676.1h0M322.5 799.6h0M258.3 819.5h0M346.9 678.7h0M341.1 742.2h0M257.4 755.6h0M236.6 770.2h0M344.3 777.6h0M264.2 694.6h0M298.1 685.5h0M331.6 747.1h0M243.1 810.1h0M304.2 808.9h0M298.8 682.7h0M346.7 768.7h0M275.5 799.9h0M331.4 788.1h0M331.7 744.1h0M288.5 688.5h0M246.6 710.4h0M363.8 705.6h0M327.9 797.9h0M238.7 711.1h0M321 684h0M296.1 808.7h0M347.2 686.8h0M354.8 701.4h0M254.6 701.1h0M351.6 735.1h0M312 683.6h0M269.8 691.9h0M328.1 686.4h0M310.6 803.4h0M247 703.5h0M261.1 751.5h0M270.7 806.1h0M346.5 728.9h0M238.6 762.3h0M277.7 797.8h0M326.9 685.9h0M336.9 741h0M243.3 728h0M362.9 697.5h0M245.9 731h0M270.8 692.4h0M290.2 693.4h0M258.5 700.6h0M284.5 803.6h0M232.6 790.5h0M273.8 798.5h0M252 741.3h0M340.7 761h0M229.8 797h0M251.8 748.1h0M357.4 691.1h0M355.1 685h0M355 714.2h0M268 693.5h0M306.1 688h0M244.9 720.2h0M346.9 763.5h0M260.3 818.4h0M359.3 711.4h0M342.5 682.1h0M240.8 738.1h0M319.1 803.8h0M364.7 700.8h0M240.4 760.1h0M258.5 754.8h0M334 683.6h0M265 812.9h0M344 756.6h0M352.8 706.1h0M316.4 690.3h0M289.3 802.7h0M250.5 813.6h0M252.4 701.2h0M319.3 688.9h0M258.3 700.4h0M288.2 804h0M312 802.5h0M355.6 762.9h0M231.8 792.3h0M345.8 775h0M275.6 806.4h0M300.8 808.4h0M284.9 803.5h0M251.9 695.6h0M349.2 684h0M303.7 691.4h0M310.5 806.4h0M318.3 801.7h0M293.1 815.6h0M245.6 760.4h0M328.3 795.9h0M229.1 780.8h0M248 739.1h0M335.6 755.5h0M290.3 812.5h0M291.7 693.4h0M350.6 686.5h0M256.7 701.2h0M269.6 814.4h0M285.2 793.9h0M281.3 694.1h0M244.9 818.3h0M241.4 725.4h0M255.8 746.4h0M357.3 684.4h0M227.4 795.6h0M337.1 734h0M272.7 798.9h0M240.3 714.6h0M310.1 685.5h0M236.8 808.9h0M317.7 684h0M355.6 706.4h0" stroke="#000" stroke-width="8.4" stroke-linecap="round" fill="none"/>
<path d="M205.5 715.2h0M233.1 707.9h0M219.3 726.6h0M225.8 725.8h0M225 736.3h0M233.1 737.6h0M261.6 676.1h0M253.5 683.5h0M244.5 689.6h0M269.7 686.7h0M282.7 678.6h0M287.6 676.1h0M292.5 665.6h0M298.7 668.8h0M306.8 663.9h0M308.3 650.4h0M324.7 661.2h0M337.3 661.5h0M344.6 668.8h0M345.9 647.2h0M351.4 650.1h0M362.8 647.7h0M373.5 641.6h0M383.9 627.3h0M390.9 629.8h0M413.7 632.7h0M436.5 631.9h0M448.2 630.1h0M410.1 643.3h0M387.7 649.3h0M393.7 651.2h0M391.3 659h0M367.4 659h0M375.5 659.9h0M380.4 662.3h0M359.2 657.4h0M391.8 668h0M399.1 666.4h0M412.1 666.4h0M415.3 671.3h0M367.4 673.7h0M380.4 676.9h0M386.9 676.1h0M398.3 676.9h0M401.5 685.1h0M406.4 691.6h0M398.3 690h0M386.6 685.9h0M378.7 684.3h0M370.6 685.1h0M378.7 698.1h0M373.9 701.4h0M365.7 703.8h0M377.1 711.9h0M385.2 709.2h0M400.7 703h0M404.8 703h0M442.2 685.1h0M452.3 694.5h0M394.2 721.7h0M400.7 723.3h0M369 722.5h0M364.1 717.6h0M359.2 711.1h0M369.8 734.7h0M359.2 737.1h0M373.9 775.4h0M419.9 780.3h0M366.2 788.1h0M356 781.9h0M347.8 784.3h0M344.6 792.5h0M339.7 794.1h0M359.2 764h0M329.9 812.8h0M321 811.2h0M313.7 810.4h0M305.5 828.3h0M304.7 819.3h0M288.4 817.7h0M269.7 816.9h0M250.2 829.1h0M250.2 821.8h0M234.7 829.1h0M229 823.4h0M225.8 812h0M218.5 795.7h0M219.3 800.6h0M219.3 777.8h0M222.5 769.7h0M225 764.8h0M229.9 760.7h0M245 856.9h0M312 673.7h0M316.9 672.1h0M320.2 670.4h0" stroke="#000" stroke-width="8.4" stroke-linecap="round" fill="none"/>
<line x1="252" y1="748" x2="277" y2="748" stroke="#dcdcdc" stroke-width="1.8"/>
<line x1="281" y1="748" x2="330" y2="748" stroke="#dcdcdc" stroke-width="1.8"/>
<line x1="278.7" y1="790" x2="278.7" y2="820" stroke="#dcdcdc" stroke-width="2"/>
<line x1="206.3" y1="782.1" x2="452.2" y2="704.3" stroke="#6e6e6e" stroke-width="3.2"/>
<rect x="112.9" y="558.1" width="355.7" height="355" fill="none" stroke="#3a3a3a" stroke-width="1.6"/>
<line x1="142.1" y1="913.1" x2="142.1" y2="923.1" stroke="#3a3a3a" stroke-width="1.6"/>
<text x="139.1" y="952.1" font-size="21.5" text-anchor="middle" textLength="29.4" lengthAdjust="spacingAndGlyphs">−4</text>
<line x1="210.4" y1="913.1" x2="210.4" y2="923.1" stroke="#3a3a3a" stroke-width="1.6"/>
<text x="207.4" y="952.1" font-size="21.5" text-anchor="middle" textLength="29.4" lengthAdjust="spacingAndGlyphs">−2</text>
<line x1="278.7" y1="913.1" x2="278.7" y2="923.1" stroke="#3a3a3a" stroke-width="1.6"/>
<text x="278.7" y="952.1" font-size="21.5" text-anchor="middle" textLength="14.3" lengthAdjust="spacingAndGlyphs">0</text>
<line x1="347" y1="913.1" x2="347" y2="923.1" stroke="#3a3a3a" stroke-width="1.6"/>
<text x="347" y="952.1" font-size="21.5" text-anchor="middle" textLength="14.3" lengthAdjust="spacingAndGlyphs">2</text>
<line x1="415.3" y1="913.1" x2="415.3" y2="923.1" stroke="#3a3a3a" stroke-width="1.6"/>
<text x="415.3" y="952.1" font-size="21.5" text-anchor="middle" textLength="14.3" lengthAdjust="spacingAndGlyphs">4</text>
<line x1="102.9" y1="884.6" x2="112.9" y2="884.6" stroke="#3a3a3a" stroke-width="1.6"/>
<text x="92.9" y="892.1" font-size="21.5" text-anchor="end" textLength="29.4" lengthAdjust="spacingAndGlyphs">−4</text>
<line x1="102.9" y1="816.3" x2="112.9" y2="816.3" stroke="#3a3a3a" stroke-width="1.6"/>
<text x="92.9" y="823.8" font-size="21.5" text-anchor="end" textLength="29.4" lengthAdjust="spacingAndGlyphs">−2</text>
<line x1="102.9" y1="748" x2="112.9" y2="748" stroke="#3a3a3a" stroke-width="1.6"/>
<text x="92.9" y="755.5" font-size="21.5" text-anchor="end" textLength="14.3" lengthAdjust="spacingAndGlyphs">0</text>
<line x1="102.9" y1="679.7" x2="112.9" y2="679.7" stroke="#3a3a3a" stroke-width="1.6"/>
<text x="92.9" y="687.2" font-size="21.5" text-anchor="end" textLength="14.3" lengthAdjust="spacingAndGlyphs">2</text>
<line x1="102.9" y1="611.4" x2="112.9" y2="611.4" stroke="#3a3a3a" stroke-width="1.6"/>
<text x="92.9" y="618.9" font-size="21.5" text-anchor="end" textLength="14.3" lengthAdjust="spacingAndGlyphs">4</text>
<text x="448.4" y="904" font-size="26.5" text-anchor="end"><tspan font-style="italic">R</tspan> = 0.24</text>
<line x1="834.2" y1="558.1" x2="834.2" y2="913.1" stroke="#d4d4d4" stroke-width="2.6"/>
<line x1="668.5" y1="748" x2="1024.2" y2="748" stroke="#d4d4d4" stroke-width="2.6"/>
<mask id="m5"><path d="M769 736.9 777.8 733.4 788.2 729.9 798.7 722.9 805.6 714.2 812.6 709 823.1 703.8 833.5 709 837 702 842.2 693.3 852.7 688.1 857.9 679.4 864.9 674.1 875.4 672.4 882.3 661.9 891.1 655 899.8 661.9 910.2 667.2 915.5 675.9 906.7 686.3 899.8 695 896.3 705.5 898 716 891.1 726.4 882.3 733.4 871.9 743.8 864.9 752.6 863.2 763 852.7 770 844 777 835.3 780.5 826.6 783.9 819.6 794.4 812.6 801.4 803.9 810.1 793.4 815.3 783 817.1 772.5 822.3 760.3 824 749.9 818.8 746.4 808.3 753.3 797.9 756.8 785.7 755.1 777 760.3 764.8 765.5 752.6 767.3 743.8 Z" fill="#fff" stroke="#000" stroke-width="12" stroke-linejoin="round"/></mask>
<path d="M769 736.9 777.8 733.4 788.2 729.9 798.7 722.9 805.6 714.2 812.6 709 823.1 703.8 833.5 709 837 702 842.2 693.3 852.7 688.1 857.9 679.4 864.9 674.1 875.4 672.4 882.3 661.9 891.1 655 899.8 661.9 910.2 667.2 915.5 675.9 906.7 686.3 899.8 695 896.3 705.5 898 716 891.1 726.4 882.3 733.4 871.9 743.8 864.9 752.6 863.2 763 852.7 770 844 777 835.3 780.5 826.6 783.9 819.6 794.4 812.6 801.4 803.9 810.1 793.4 815.3 783 817.1 772.5 822.3 760.3 824 749.9 818.8 746.4 808.3 753.3 797.9 756.8 785.7 755.1 777 760.3 764.8 765.5 752.6 767.3 743.8 Z" fill="#000" mask="url(#m5)"/>
<path d="M823.8 702.7h0M883 724.5h0M839.5 775h0M894 692.6h0M778.4 740.3h0M823 708.3h0M862.1 747.3h0M744.9 805.8h0M866.6 741h0M807.8 711.5h0M767.1 748.4h0M790.1 807.9h0M787.7 735.5h0M822.1 706.8h0M913.2 671.4h0M838.4 772.4h0M847.7 694.9h0M756.9 818.1h0M812.7 711.2h0M850.6 692.8h0M785.1 738.6h0M892 717h0M810.3 792.5h0M911.3 672.8h0M762.3 793.3h0M913.8 675.9h0M843.6 706.4h0M822.1 705.3h0M836.3 714.9h0M855.5 765.5h0M849.3 688.5h0M898.5 699.1h0M850.1 692.6h0M895.1 709.7h0M819 785.3h0M772.4 822.3h0M849.5 697.8h0M899 689.9h0M764 773.2h0M893.5 707.9h0M754 799.1h0M855.7 694.5h0M759.2 792.1h0M796.6 726.3h0M840.9 709.7h0M889 703h0M874.4 739.7h0M756.1 800.9h0M793.1 808h0M891.6 719.1h0M874.6 736.2h0M805.4 724.6h0M819.3 788h0M766 821.2h0M792.2 735.9h0M825.8 711.2h0M864.9 745.6h0M764 757.2h0M832.3 714.3h0M879.8 672.8h0M753.6 797h0M886.8 719.2h0M760.5 797.4h0M759.8 770.7h0M776.6 741.2h0M763.2 752.4h0M827.5 781.1h0M887.3 665.1h0M766.1 754.7h0M753.1 820.4h0M781.9 815.2h0M758.2 795h0M808.4 720.6h0M895.8 688.5h0M851.5 762.2h0M845.6 703.1h0M837.6 710.2h0M839.8 696h0M822.6 710h0M901.9 669.1h0M805 721.3h0M772.8 751.2h0M867.9 678.1h0M797.6 726.9h0M853.2 768.5h0M764.5 818h0M800.6 722.5h0M752 816.8h0M877 675.3h0M758.6 764.7h0M893.8 655.3h0M857.9 751h0M849.9 770.2h0M805 721.5h0M758.8 784.7h0M773.7 737.8h0M892.7 658.3h0M772.1 746.7h0M821.3 781.6h0M860.6 682.7h0M764.4 754.4h0M784.5 739h0M904.9 667.7h0M899.8 713h0M779.5 811h0M878.4 671.2h0M815.4 716.4h0M880.9 724.7h0M804.5 799.2h0M827 780.4h0M895 716.6h0M762.8 766.5h0M836.9 699h0M838.1 705h0M862.3 684.9h0M840.6 705.4h0M894.9 667.7h0M864.2 750.5h0M767 753.1h0M792.8 735h0M783.5 816.9h0M895.3 708.3h0M908.9 676.7h0M855.2 687.2h0M847.6 698.2h0M762 789h0M822.9 783.3h0M896.9 695.7h0M798.7 811h0M882.4 730h0M835 777.1h0M822.5 705.2h0M901.2 688.4h0M897.3 663.3h0M890.2 658.9h0M896.2 663.1h0M807.7 795h0M859.4 690.3h0M851.6 771.2h0M803.9 799.9h0M826.1 781.8h0M757.8 795.1h0M804.6 726.8h0M779.2 817.7h0M829 775.2h0M798.7 806.6h0M804.3 722.8h0M872.8 679.9h0M764.3 769.6h0M762.1 817.7h0M757.4 794.6h0M888.5 721.6h0M880.7 732.2h0M904.9 676.6h0M878.6 676.6h0M759.2 791.9h0" stroke="#000" stroke-width="8.4" stroke-linecap="round" fill="none"/>
<path d="M880.6 588.4h0M981.7 593.4h0M945.1 607.5h0M934.6 611.4h0M932 614h0M958.7 615.4h0M935.5 623.6h0M936 629.7h0M940.7 641h0M964.3 635.8h0M910.2 630.9h0M917.2 636.3h0M902.4 637.2h0M902.9 644.5h0M906.7 652.9h0M918.1 645.4h0M919.8 650.6h0M915.5 656.7h0M898 650.6h0M890.2 648.9h0M871 645h0M871.9 653.7h0M850.6 655.5h0M846.3 662.8h0M851 670.6h0M861.1 669.4h0M844.9 682.8h0M841.9 693.3h0M850.1 691.6h0M934.6 658.8h0M946 661.9h0M931.1 668.9h0M944.2 673.3h0M912.8 689.8h0M916.3 694.2h0M906.7 703.8h0M912 702h0M906.4 711.6h0M899.8 723.8h0M897.2 731.3h0M881.5 744.7h0M863.2 766h0M847.5 776.1h0M839.6 777.8h0M830 785.7h0M821.7 796.7h0M810 803.1h0M804.8 812.7h0M791.7 821.4h0M784.7 836.6h0M767.3 836.8h0M748.1 841.1h0M724.6 847.6h0M735 823.7h0M740.3 820.2h0M741.1 811h0M725.5 792.1h0M742.9 791.8h0M745.5 787.4h0M748.1 781.3h0M751.1 764.4h0M760.3 768.3h0M769 752.6h0M767.3 825.8h0M770.8 827.5h0M810 694.3h0M825.7 699.1h0M817.8 702h0M810 707.2h0M803.9 712.5h0M786.5 729.9h0M770.8 736.9h0" stroke="#000" stroke-width="8.4" stroke-linecap="round" fill="none"/>
<line x1="725.9" y1="812.2" x2="1008" y2="616.5" stroke="#6e6e6e" stroke-width="3.2"/>
<rect x="668.5" y="558.1" width="355.7" height="355" fill="none" stroke="#3a3a3a" stroke-width="1.6"/>
<line x1="697.6" y1="913.1" x2="697.6" y2="923.1" stroke="#3a3a3a" stroke-width="1.6"/>
<text x="694.6" y="952.1" font-size="21.5" text-anchor="middle" textLength="29.4" lengthAdjust="spacingAndGlyphs">−4</text>
<line x1="765.9" y1="913.1" x2="765.9" y2="923.1" stroke="#3a3a3a" stroke-width="1.6"/>
<text x="762.9" y="952.1" font-size="21.5" text-anchor="middle" textLength="29.4" lengthAdjust="spacingAndGlyphs">−2</text>
<line x1="834.2" y1="913.1" x2="834.2" y2="923.1" stroke="#3a3a3a" stroke-width="1.6"/>
<text x="834.2" y="952.1" font-size="21.5" text-anchor="middle" textLength="14.3" lengthAdjust="spacingAndGlyphs">0</text>
<line x1="902.5" y1="913.1" x2="902.5" y2="923.1" stroke="#3a3a3a" stroke-width="1.6"/>
<text x="902.5" y="952.1" font-size="21.5" text-anchor="middle" textLength="14.3" lengthAdjust="spacingAndGlyphs">2</text>
<line x1="970.8" y1="913.1" x2="970.8" y2="923.1" stroke="#3a3a3a" stroke-width="1.6"/>
<text x="970.8" y="952.1" font-size="21.5" text-anchor="middle" textLength="14.3" lengthAdjust="spacingAndGlyphs">4</text>
<line x1="658.5" y1="884.6" x2="668.5" y2="884.6" stroke="#3a3a3a" stroke-width="1.6"/>
<text x="648.5" y="892.1" font-size="21.5" text-anchor="end" textLength="29.4" lengthAdjust="spacingAndGlyphs">−4</text>
<line x1="658.5" y1="816.3" x2="668.5" y2="816.3" stroke="#3a3a3a" stroke-width="1.6"/>
<text x="648.5" y="823.8" font-size="21.5" text-anchor="end" textLength="29.4" lengthAdjust="spacingAndGlyphs">−2</text>
<line x1="658.5" y1="748" x2="668.5" y2="748" stroke="#3a3a3a" stroke-width="1.6"/>
<text x="648.5" y="755.5" font-size="21.5" text-anchor="end" textLength="14.3" lengthAdjust="spacingAndGlyphs">0</text>
<line x1="658.5" y1="679.7" x2="668.5" y2="679.7" stroke="#3a3a3a" stroke-width="1.6"/>
<text x="648.5" y="687.2" font-size="21.5" text-anchor="end" textLength="14.3" lengthAdjust="spacingAndGlyphs">2</text>
<line x1="658.5" y1="611.4" x2="668.5" y2="611.4" stroke="#3a3a3a" stroke-width="1.6"/>
<text x="648.5" y="618.9" font-size="21.5" text-anchor="end" textLength="14.3" lengthAdjust="spacingAndGlyphs">4</text>
<text x="1000.5" y="904" font-size="26.5" text-anchor="end"><tspan font-style="italic">R</tspan> = 0.74</text>
<text x="5.2" y="564.6" font-size="40.5" font-weight="bold" stroke="#000" stroke-width="1.1">b</text>
<text x="544.6" y="564.6" font-size="40.5" font-weight="bold" stroke="#000" stroke-width="1.1">c</text>
<text x="280.7" y="988.6" font-size="26" text-anchor="middle" textLength="291.3" lengthAdjust="spacingAndGlyphs">log<tspan font-size="17.2" dy="7.8">2</tspan><tspan dy="-7.8">[fold change (FLI1)]</tspan></text>
<text x="836.4" y="988.6" font-size="26" text-anchor="middle" textLength="292.3" lengthAdjust="spacingAndGlyphs">log<tspan font-size="17.2" dy="7.8">2</tspan><tspan dy="-7.8">[fold change (FLI1)]</tspan></text>
<text x="22" y="736.4" font-size="26" text-anchor="middle" textLength="211.6" lengthAdjust="spacingAndGlyphs" transform="rotate(-90 22 736.4)">log<tspan font-size="17.2" dy="7.8">2</tspan><tspan dy="-7.8">[fold change</tspan></text>
<text x="55" y="737.2" font-size="26" text-anchor="middle" textLength="138.4" lengthAdjust="spacingAndGlyphs" transform="rotate(-90 55 737.2)">(H3K27ac)]</text>
<text x="569.3" y="736.3" font-size="26" text-anchor="middle" textLength="211.4" lengthAdjust="spacingAndGlyphs" transform="rotate(-90 569.3 736.3)">log<tspan font-size="17.2" dy="7.8">2</tspan><tspan dy="-7.8">[fold change</tspan></text>
<text x="601.8" y="734.5" font-size="26" text-anchor="middle" textLength="143" lengthAdjust="spacingAndGlyphs" transform="rotate(-90 601.8 734.5)">(ATAC-seq)]</text>
<line x1="1244.3" y1="751.3" x2="1707.4" y2="751.3" stroke="#d4d4d4" stroke-width="2.6"/>
<path d="M1329.8 566.8h0M1332.4 596.3h0M1330.7 601.5h0M1332.4 606.6h0M1327.2 610.9h0M1335.8 613.5h0M1330.7 616.1h0M1332.4 619.5h0M1332.4 628.9h0M1331.5 641.8h0M1331.5 650.4h0M1329.8 665.8h0M1334.1 665.8h0M1330.7 778.2h0M1331.5 786.8h0M1325.5 680.4h0M1335.8 677h0M1323.8 692.4h0M1341 692.4h0M1322.1 701h0M1342.7 701h0" stroke="#000" stroke-width="8" stroke-linecap="round" fill="none"/>
<path d="M1331.5 670.1 1337.5 680.4 1342.7 692.4 1344.4 704.5 1346.1 718.2 1349.5 728.5 1356.4 735.3 1361.5 740.5 1373.6 742.2 1385.6 743.9 1387.3 750.8 1380.4 754.2 1370.1 755.9 1361.5 757.7 1353 759.4 1346.1 761.1 1337.5 768 1335.8 773.1 1327.2 773.1 1323.8 768 1316.9 761.1 1310.1 759.4 1299.8 755.9 1287.8 753.4 1275.7 751.6 1275.7 743.9 1284.3 742.2 1298.1 740.5 1306.6 735.3 1313.5 728.5 1316.9 718.2 1318.6 704.5 1320.4 692.4 1325.5 680.4 Z" fill="#000"/>
<path d="M1330.7 670.3h0M1334.1 675.6h0M1337.9 679.1h0M1338.6 687.4h0M1342 691.6h0M1345 698.4h0M1345.4 704.4h0M1345.7 710.3h0M1346.5 719.3h0M1347.9 724.1h0M1350.1 727.2h0M1357.2 735.6h0M1361 739.1h0M1368.7 741.3h0M1374.2 743.3h0M1380.2 744.3h0M1385.3 744.8h0M1387.1 752.1h0M1381.6 753h0M1374.2 754.2h0M1371.5 755.7h0M1361.9 757.1h0M1353 759h0M1345.7 761.3h0M1342.1 765.7h0M1338.1 769.2h0M1336.9 774.6h0M1327.7 772.1h0M1324.9 769.3h0M1318.1 761.3h0M1310.7 758.5h0M1305.9 757.9h0M1299.1 754.6h0M1294.8 756.1h0M1286.5 754.3h0M1281.5 751.5h0M1275.1 752.5h0M1276.9 742.6h0M1284.7 740.8h0M1291.8 740.8h0M1299.2 741.9h0M1302.4 739.4h0M1306.1 734.1h0M1313.8 727.1h0M1314.3 723.1h0M1317.3 717.2h0M1316.4 712.4h0M1318.1 705.8h0M1320.7 698.1h0M1320.2 692.5h0M1323.4 686.7h0M1325.7 680.8h0M1329.8 675.3h0" stroke="#000" stroke-width="8" stroke-linecap="round" fill="none"/>
<path d="M1279.2 754.2h0M1287.8 752.5h0M1298.1 755.9h0M1301.5 754.2h0M1311.8 757.7h0M1318.6 759.4h0M1342.7 757.7h0M1346.1 761.1h0M1356.4 755.9h0M1363.3 756.8h0M1370.1 752.5h0M1383.9 750.8h0" stroke="#000" stroke-width="8" stroke-linecap="round" fill="none"/>
<path d="M1476.1 681.3h0M1476.1 690.7h0M1476.1 695h0M1476.1 702.7h0M1476.1 706.2h0M1476.1 709.6h0M1476.1 725.9h0M1476.1 822.9h0M1476.1 828h0M1476.1 833.2h0M1476.1 895.8h0" stroke="#000" stroke-width="8" stroke-linecap="round" fill="none"/>
<path d="M1476.1 723.3 1480.1 731.9 1485.2 738.8 1497.2 742.2 1516.1 745.6 1531.5 749.1 1535.8 753.4 1531.5 758.5 1516.1 760.2 1498.9 762.8 1492.1 771.4 1486.1 780 1481.8 790.3 1480.9 807.4 1480.1 824.6 1472.3 824.6 1471.5 807.4 1470.6 790.3 1466.3 780 1461.2 771.4 1454.3 763.7 1437.2 761.1 1420 760.2 1416.6 755.9 1419.1 749.1 1437.2 746.5 1454.3 743.9 1466.3 738.8 1471.5 731.9 Z" fill="#000"/>
<path d="M1475.5 722.4h0M1479.8 731.1h0M1484.2 738.5h0M1492.2 741.2h0M1497.9 741.5h0M1503.6 742.8h0M1509 743.6h0M1515.4 746.7h0M1522 747.5h0M1527.1 747.2h0M1531.1 749.4h0M1536.4 754.2h0M1532.5 757.5h0M1526.7 759.5h0M1521.3 758.9h0M1516 759.2h0M1511.4 762h0M1504.8 761.5h0M1499.9 763h0M1496.4 767.9h0M1492.1 771.2h0M1489.3 775.5h0M1485.3 779.5h0M1484.7 784h0M1480.7 790.6h0M1481 796.1h0M1481.1 801.3h0M1482.1 806.7h0M1480.4 812.4h0M1480.7 818.3h0M1479.7 825.2h0M1471.9 824.7h0M1473 817.9h0M1470.7 812.5h0M1472.1 807.7h0M1470.6 801.3h0M1470.1 795.9h0M1469.5 790.7h0M1469.4 786.2h0M1466.9 781.1h0M1462.6 775.2h0M1462.3 772h0M1457.5 768.6h0M1454.6 764.4h0M1448.1 762.1h0M1442.7 761.1h0M1436.9 762.2h0M1431 759.6h0M1424.6 759.7h0M1420.7 759.9h0M1416.1 755h0M1420.3 748.9h0M1424.4 747.2h0M1430.1 746.6h0M1437.6 745.7h0M1441.8 745.6h0M1448 746h0M1453.4 744h0M1461 741.1h0M1467.5 738.7h0M1470.9 731.7h0" stroke="#000" stroke-width="8" stroke-linecap="round" fill="none"/>
<path d="M1621.5 651 1625.5 660 1626 700 1627 725 1630 733 1640 740 1660 744 1682 748 1684 752 1680 757 1660 759 1640 761 1628 765 1626 790 1625.5 812 1617.5 812 1617 790 1616 765 1603 761 1580 759 1561 756 1559 752 1562 748 1580 745 1603 741 1613 733 1616 725 1617 700 1617.5 660 Z" fill="#000"/>
<path d="M1621.5 618.6h0M1621.5 625.7h0M1621.5 629h0M1621.5 641.5h0M1621.5 647h0M1621.5 817h0M1621.5 823h0M1621.5 829h0M1621.5 834h0M1621.5 848.1h0" stroke="#000" stroke-width="8" stroke-linecap="round" fill="none"/>
<line x1="1331.5" y1="666.7" x2="1331.5" y2="785.1" stroke="#5a5a5a" stroke-width="2.4"/>
<rect x="1276.6" y="711.3" width="109.5" height="37.4" fill="none" stroke="#5a5a5a" stroke-width="2.6"/>
<line x1="1276.6" y1="740.5" x2="1386.1" y2="740.5" stroke="#5a5a5a" stroke-width="2.6"/>
<line x1="1476.1" y1="736" x2="1476.1" y2="775" stroke="#5a5a5a" stroke-width="2.4"/>
<rect x="1420.4" y="748.6" width="110.9" height="12.6" fill="none" stroke="#5a5a5a" stroke-width="2.6"/>
<line x1="1421" y1="751.6" x2="1530" y2="751.6" stroke="#5a5a5a" stroke-width="1.6"/>
<line x1="1421" y1="754.6" x2="1530" y2="754.6" stroke="#5a5a5a" stroke-width="1.6"/>
<rect x="1565.9" y="747.4" width="110" height="8.8" fill="#5a5a5a" stroke="#5a5a5a" stroke-width="2.4"/>
<line x1="1567" y1="750.2" x2="1675" y2="750.2" stroke="#222" stroke-width="0.8"/>
<line x1="1567" y1="753.4" x2="1675" y2="753.4" stroke="#222" stroke-width="0.8"/>
<line x1="1331.5" y1="684.4" x2="1331.5" y2="765" stroke="#ff2a00" stroke-width="2.6"/>
<line x1="1310" y1="684.4" x2="1353" y2="684.4" stroke="#ff2a00" stroke-width="2.6"/>
<line x1="1310" y1="765" x2="1353" y2="765" stroke="#ff2a00" stroke-width="2.6"/>
<path d="M1331.5 715.3 1340.9 724.7 1331.5 734.1 1322.1 724.7 Z" fill="#ff2a00"/>
<line x1="1476.1" y1="740.5" x2="1476.1" y2="773.4" stroke="#ff2a00" stroke-width="2.6"/>
<line x1="1454.4" y1="740.5" x2="1497.8" y2="740.5" stroke="#ff2a00" stroke-width="2.6"/>
<line x1="1454.4" y1="773.4" x2="1497.8" y2="773.4" stroke="#ff2a00" stroke-width="2.6"/>
<path d="M1476.1 747.9 1485.5 757.3 1476.1 766.7 1466.7 757.3 Z" fill="#ff2a00"/>
<line x1="1620.8" y1="739.3" x2="1620.8" y2="763.3" stroke="#ff2a00" stroke-width="2.6"/>
<line x1="1599.1" y1="739.3" x2="1642.5" y2="739.3" stroke="#ff2a00" stroke-width="2.6"/>
<line x1="1599.1" y1="763.3" x2="1642.5" y2="763.3" stroke="#ff2a00" stroke-width="2.6"/>
<path d="M1620.8 741.7 1630.2 751.1 1620.8 760.5 1611.4 751.1 Z" fill="#ff2a00"/>
<rect x="1244.3" y="551.5" width="463.1" height="359.7" fill="none" stroke="#3a3a3a" stroke-width="1.6"/>
<line x1="1233.3" y1="612.9" x2="1244.3" y2="612.9" stroke="#3a3a3a" stroke-width="1.6"/>
<text x="1224.8" y="620.4" font-size="21.5" text-anchor="end" textLength="35.9" lengthAdjust="spacingAndGlyphs">5.0</text>
<line x1="1233.3" y1="682.1" x2="1244.3" y2="682.1" stroke="#3a3a3a" stroke-width="1.6"/>
<text x="1224.8" y="689.6" font-size="21.5" text-anchor="end" textLength="35.9" lengthAdjust="spacingAndGlyphs">2.5</text>
<line x1="1233.3" y1="751.3" x2="1244.3" y2="751.3" stroke="#3a3a3a" stroke-width="1.6"/>
<text x="1224.8" y="758.8" font-size="21.5" text-anchor="end" textLength="14.3" lengthAdjust="spacingAndGlyphs">0</text>
<line x1="1233.3" y1="820.5" x2="1244.3" y2="820.5" stroke="#3a3a3a" stroke-width="1.6"/>
<text x="1224.8" y="828" font-size="21.5" text-anchor="end" textLength="50.9" lengthAdjust="spacingAndGlyphs">−2.5</text>
<line x1="1233.3" y1="889.7" x2="1244.3" y2="889.7" stroke="#3a3a3a" stroke-width="1.6"/>
<text x="1224.8" y="897.2" font-size="21.5" text-anchor="end" textLength="50.9" lengthAdjust="spacingAndGlyphs">−5.0</text>
<line x1="1331.5" y1="911.2" x2="1331.5" y2="921.2" stroke="#3a3a3a" stroke-width="1.6"/>
<line x1="1476.1" y1="911.2" x2="1476.1" y2="921.2" stroke="#3a3a3a" stroke-width="1.6"/>
<line x1="1621.2" y1="911.2" x2="1621.2" y2="921.2" stroke="#3a3a3a" stroke-width="1.6"/>
<text x="1331.5" y="953.7" font-size="26.5" text-anchor="middle" textLength="45.1" lengthAdjust="spacingAndGlyphs">FLI1</text>
<text x="1331.5" y="984.4" font-size="26.5" text-anchor="middle" textLength="30.7" lengthAdjust="spacingAndGlyphs">up</text>
<text x="1476.1" y="953.7" font-size="26.5" text-anchor="middle" textLength="45.1" lengthAdjust="spacingAndGlyphs">FLI1</text>
<text x="1476.1" y="984.4" font-size="26.5" text-anchor="middle" textLength="69.2" lengthAdjust="spacingAndGlyphs">down</text>
<text x="1621.2" y="953.7" font-size="26.5" text-anchor="middle" textLength="34.2" lengthAdjust="spacingAndGlyphs">No</text>
<text x="1621.2" y="984.4" font-size="26.5" text-anchor="middle" textLength="93.3" lengthAdjust="spacingAndGlyphs">change</text>
<text x="1341.8" y="580.9" font-size="25.5" textLength="178" lengthAdjust="spacingAndGlyphs"><tspan font-style="italic">P</tspan> = 4.96 × 10<tspan font-size="17" dy="-12">−13</tspan></text>
<text x="1431.7" y="666.7" font-size="25.5" textLength="177" lengthAdjust="spacingAndGlyphs"><tspan font-style="italic">P</tspan> = 5.50 × 10<tspan font-size="17" dy="-12">−15</tspan></text>
<text x="1126" y="732.5" font-size="26" text-anchor="middle" textLength="210.3" lengthAdjust="spacingAndGlyphs" transform="rotate(-90 1126 732.5)">log<tspan font-size="17.2" dy="7.8">2</tspan><tspan dy="-7.8">[fold change</tspan></text>
<text x="1158.9" y="730.3" font-size="26" text-anchor="middle" textLength="131.4" lengthAdjust="spacingAndGlyphs" transform="rotate(-90 1158.9 730.3)">(RNA-seq)]</text>
<text x="1102.8" y="564.4" font-size="40.5" font-weight="bold" stroke="#000" stroke-width="1.1">d</text>
<path d="M151.5 1180.6 241.5 1180.7 252.5 1179.7 262.5 1180.7 288.5 1180.3 333.5 1180.7 343.5 1180.3 359.5 1180.7 363.5 1180.1 368.5 1178.1 373.5 1179.8 378.5 1180.7 394.5 1180.5 400.5 1179.3 409.5 1180.7 616.5 1180.4 617.5 1180.3 618.5 1172.9 619.5 1154.5 620.5 1151.6 623.5 1151.7 624.5 1154.6 625.5 1173.3 626.5 1180.7 637.5 1180.5 650.5 1177.2 653.5 1177.5 663.5 1180.3 672.5 1180.7 781.5 1180.6 789.5 1179.3 798.5 1180.7 815.5 1180.3 820.5 1180.7 903.5 1180.6 904 1183.7 151.5 1183.7 Z" fill="#4d4d4d"/>
<path d="M151.5 1220.2 295.5 1220.4 300.5 1220 311.5 1220.4 320.5 1220 357.5 1220.4 361.5 1220.2 369.5 1218.7 375.5 1220.1 382.5 1220.4 454.5 1219.9 462.5 1220.4 479.5 1220 483.5 1220.4 495.5 1220 616.5 1220.4 617.5 1220.3 620.5 1213.5 622.5 1213.2 623.5 1213.2 626.5 1220.1 627.5 1220.2 643.5 1220 651.5 1219.2 668.5 1220.4 679.5 1220 683.5 1220.4 724.5 1220 736.5 1220.4 743.5 1220 818.5 1220.4 823.5 1220 828.5 1220.4 867.5 1220.4 887.5 1219.9 903.5 1220.4 904 1223.4 151.5 1223.4 Z" fill="#4d4d4d"/>
<path d="M151.5 1260.1 279.5 1260.3 284.5 1259.9 295.5 1260.3 300.5 1259.8 305.5 1260.3 423.5 1260.3 443.5 1259.9 459.5 1260.3 463.5 1259.8 476.5 1260.3 479.5 1259.8 487.5 1260.3 616.5 1260.2 617.5 1259.3 619.5 1254.1 620.5 1253.4 623.5 1253.2 624.5 1253.7 626.5 1259 627.5 1259.9 630.5 1260.2 639.5 1260.1 650.5 1259.3 663.5 1260.3 704.5 1259.9 716.5 1260.3 725.5 1259.9 730.5 1260.3 814.5 1260.3 822.5 1259.8 827.5 1260.3 838.5 1259.9 875.5 1260.3 878.5 1259.8 903.5 1260.3 904 1263.3 151.5 1263.3 Z" fill="#8b0000"/>
<path d="M151.5 1300.3 169.5 1300.4 173.5 1299.9 183.5 1300.4 189.5 1300 194.5 1300.4 330.5 1300 349.5 1300.4 353.5 1300 360.5 1300.4 363.5 1300.3 368.5 1298.9 372.5 1299.9 385.5 1300.4 422.5 1300.4 430.5 1299.9 435.5 1300.4 473.5 1300.4 479.5 1299.4 487.5 1300.4 617.5 1300.1 619.5 1274 620.5 1272.4 623.5 1272.4 624.5 1274.1 626.5 1300.2 627.5 1300.3 639.5 1300.4 645.5 1298.4 650.5 1300 655.5 1298.5 659.5 1299.9 663.5 1300.4 725.5 1300 730.5 1300.4 903.5 1300.3 904 1303.4 151.5 1303.4 Z" fill="#8b0000"/>
<path d="M151.5 1340.2 171.5 1340.1 181.5 1339 191.5 1340.2 239.5 1340.2 244.5 1340 251.5 1338.3 257.5 1338 260.5 1338.1 266.5 1339.6 273.5 1340.2 288.5 1340.1 298.5 1339 319.5 1340.2 339.5 1339.8 344.5 1340.2 355.5 1339.5 360.5 1338.4 367.5 1338.2 390.5 1340.2 434.5 1340.1 449.5 1339 467.5 1340.2 502.5 1339.8 520.5 1340.2 542.5 1338.7 550.5 1339.8 558.5 1340.2 578.5 1339.8 587.5 1340.1 596.5 1339 602.5 1339 612.5 1340.1 638.5 1340.2 641.5 1340 643.5 1339.2 647.5 1334.8 650.5 1333.5 656.5 1334 658.5 1335.2 662.5 1339.1 666.5 1340.2 685.5 1340.2 700.5 1338.9 712.5 1340.2 873.5 1340.2 882.5 1340 890.5 1338.7 898.5 1340.1 903.5 1340.2 904 1343.2 151.5 1343.2 Z" fill="#006400"/>
<path d="M151.5 1380 243.5 1380.1 246.5 1379.3 250.5 1375.9 254.5 1379.2 257.5 1380.1 273.5 1379.8 295.5 1378.4 308.5 1378.5 330.5 1380 349.5 1380 362.5 1377.2 369.5 1376.8 377.5 1378 384.5 1379.8 393.5 1380.1 424.5 1379.8 441.5 1378.5 460.5 1378.6 468.5 1379.5 483.5 1380 495.5 1379.6 500.5 1380.1 527.5 1379.9 530.5 1379.5 538.5 1376.9 540.5 1377.2 544.5 1379.2 547.5 1379.8 557.5 1380.1 567.5 1378.3 571.5 1378.1 576.5 1378.6 581.5 1379.9 608.5 1380.1 609.5 1380 611.5 1369.9 612.5 1369.1 618.5 1368.6 620.5 1366.8 622.5 1373.3 624.5 1372.2 628.5 1372.3 633.5 1379.5 634.5 1379.1 636.5 1375.8 638.5 1373.8 642.5 1373.6 644.5 1374.4 645.5 1373.3 650.5 1352.6 651.5 1350 653.5 1347.5 654.5 1348.1 655.5 1350.4 658.5 1362.6 660.5 1368.5 664.5 1373.1 667.5 1378.3 669.5 1379.7 675.5 1379.4 688.5 1377 694.5 1377.2 706.5 1379.6 719.5 1380.1 738.5 1379.7 742.5 1380.1 903.5 1380.1 904 1383.1 151.5 1383.1 Z" fill="#006400"/>
<path d="M151.5 1419.5 225.5 1419.5 228.5 1418.6 229.5 1414.1 230.5 1412.7 233.5 1413.3 235.5 1419.5 244.5 1419.3 250.5 1416.5 252.5 1416.9 256.5 1419 261.5 1419.5 322.5 1419.5 331.5 1419 336.5 1419.5 364.5 1419.5 365.5 1419.1 367.5 1410.5 368.5 1409.6 371.5 1410 373.5 1418.2 374.5 1419.2 376.5 1419.5 437.5 1419.5 445.5 1419 450.5 1419.5 492.5 1419.1 528.5 1419.5 531.5 1419.2 535.5 1416.4 536.5 1416.5 540.5 1419.2 543.5 1419.4 562.5 1419.4 567.5 1417.5 575.5 1419.5 613.5 1419.4 617.5 1419.2 619.5 1412.4 620.5 1410.7 622.5 1410.5 623.5 1410.7 624.5 1412.5 626.5 1419.3 627.5 1419.4 638.5 1419.2 645.5 1416.2 653.5 1415.3 662.5 1419 665.5 1419.4 672.5 1418.9 675.5 1416.6 676.5 1416.5 679.5 1418.8 685.5 1419.5 858.5 1419.5 863.5 1419.1 903.5 1419.5 904 1422.5 151.5 1422.5 Z" fill="#7e2ad6"/>
<path d="M151.5 1458.9 227.5 1459.2 228.5 1457.7 229.5 1449.9 230.5 1447.4 231.5 1447 232.5 1447 233.5 1448 235.5 1459.2 240.5 1459.3 244.5 1458.4 250.5 1455.2 252.5 1455.6 257.5 1458.6 261.5 1459.3 363.5 1459.3 364.5 1459.2 365.5 1457.3 366.5 1445.2 367.5 1440.6 370.5 1440.3 371.5 1441.3 373.5 1458.5 375.5 1450.4 376.5 1450.2 378.5 1450.4 380.5 1458.9 385.5 1459.3 411.5 1458.9 454.5 1459.2 458.5 1458.8 463.5 1457.1 465.5 1457.1 471.5 1458.9 475.5 1459.3 562.5 1459.3 563.5 1458.8 565.5 1453 566.5 1452.3 568.5 1452.2 569.5 1452.6 571.5 1458.1 573.5 1459.1 609.5 1459.3 610.5 1459.1 613.5 1454.5 616.5 1454.5 617.5 1455.7 618.5 1449.1 619.5 1431.2 620.5 1427.4 622.5 1427.2 623.5 1427.3 624.5 1431.2 625.5 1447.9 626.5 1451.5 627.5 1450.3 630.5 1450.4 631.5 1451.8 633.5 1459.3 638.5 1459 639.5 1458.3 643.5 1452.7 645.5 1451.5 654.5 1451.3 656.5 1451.4 658.5 1452.6 662.5 1458.2 663.5 1459 665.5 1459.3 670.5 1459.1 675.5 1457.4 680.5 1459 683.5 1459.2 755.5 1459.3 765.5 1458.9 792.5 1459.3 796.5 1458.9 814.5 1459.3 823.5 1458.9 830.5 1457.8 835.5 1458.9 841.5 1459.3 903.5 1459.3 904 1462.3 151.5 1462.3 Z" fill="#7e2ad6"/>
<path d="M151.5 1499.1 211.5 1499.1 216.5 1498.7 253.5 1499.1 267.5 1498.6 278.5 1499.1 312.5 1498.7 315.5 1499.1 321.5 1498.7 463.5 1499.1 472.5 1498.7 614.5 1499.1 617.5 1498.5 620.5 1495.4 622.5 1494.9 627.5 1498.9 631.5 1499.1 644.5 1498.7 701.5 1499.1 704.5 1498.7 714.5 1499.1 823.5 1499.1 830.5 1498.6 842.5 1499.1 862.5 1499.1 865.5 1498.7 870.5 1499.1 903.5 1499.1 904 1502.1 151.5 1502.1 Z" fill="#8b0000"/>
<path d="M151.5 1538.8 354.5 1539.1 358.5 1538.6 366.5 1539.1 373.5 1538.7 377.5 1539.1 438.5 1538.7 488.5 1539.1 493.5 1538.6 497.5 1539.1 617.5 1539 618.5 1531.9 619.5 1513.8 620.5 1511 622.5 1511 623.5 1511 624.5 1513.7 625.5 1531.9 626.5 1539 640.5 1538.9 642.5 1538.3 645.5 1536.2 646.5 1536.2 650.5 1538.8 654.5 1539.1 903.5 1539.1 904 1542.1 151.5 1542.1 Z" fill="#8b0000"/>
<line x1="159.6" y1="1098.4" x2="896.4" y2="1098.4" stroke="#000" stroke-width="9.4" stroke-linecap="round"/>
<path d="M158.6 1096.4 168.6 1101.4 166.6 1105.9 159.6 1103.4 Z" fill="#000"/>
<path d="M887.4 1091.9 898.4 1097.4 898.4 1101.4 889.4 1103.4 Z" fill="#000"/>
<rect x="211.7" y="1088.4" width="5.6" height="8" fill="#000"/>
<rect x="356" y="1088.4" width="5.6" height="8" fill="#000"/>
<rect x="500.2" y="1088.4" width="5.6" height="8" fill="#000"/>
<rect x="645.2" y="1088.4" width="5.6" height="8" fill="#000"/>
<rect x="789.5" y="1088.4" width="5.6" height="8" fill="#000"/>
<rect x="284.1" y="1100.4" width="5.6" height="8" fill="#000"/>
<rect x="428.3" y="1100.4" width="5.6" height="8" fill="#000"/>
<rect x="572.6" y="1100.4" width="5.6" height="8" fill="#000"/>
<rect x="716.9" y="1100.4" width="5.6" height="8" fill="#000"/>
<rect x="861.2" y="1100.4" width="5.6" height="8" fill="#000"/>
<text x="197.8" y="1076.8" font-size="26" textLength="118.4" lengthAdjust="spacingAndGlyphs">90.69 Mb</text>
<text x="342.1" y="1076.8" font-size="26" textLength="62.6" lengthAdjust="spacingAndGlyphs">90.71</text>
<text x="486.4" y="1076.8" font-size="26" textLength="66.9" lengthAdjust="spacingAndGlyphs">90.73</text>
<text x="630.8" y="1076.8" font-size="26" textLength="66.8" lengthAdjust="spacingAndGlyphs">90.75</text>
<text x="775.1" y="1076.8" font-size="26" textLength="65.8" lengthAdjust="spacingAndGlyphs">90.77</text>
<text x="268.4" y="1136.1" font-size="26" textLength="51.4" lengthAdjust="spacingAndGlyphs">90.7</text>
<text x="411.6" y="1136.1" font-size="26" textLength="65.8" lengthAdjust="spacingAndGlyphs">90.72</text>
<text x="555.9" y="1136.1" font-size="26" textLength="65.8" lengthAdjust="spacingAndGlyphs">90.74</text>
<text x="700.2" y="1136.1" font-size="26" textLength="66.9" lengthAdjust="spacingAndGlyphs">90.76</text>
<text x="844.6" y="1136.1" font-size="26" textLength="65.7" lengthAdjust="spacingAndGlyphs">90.78</text>
<text x="4.6" y="1073" font-size="40.5" font-weight="bold" stroke="#000" stroke-width="1.1">e</text>
<rect x="143.9" y="1155" width="3" height="69.4" fill="#4d4d4d"/>
<rect x="143.9" y="1235.1" width="3" height="68.4" fill="#8b0000"/>
<rect x="143.9" y="1313.3" width="3" height="68.5" fill="#006400"/>
<rect x="143.9" y="1393.2" width="3" height="68.4" fill="#7e2ad6"/>
<rect x="143.9" y="1473.7" width="3" height="69.3" fill="#8b0000"/>
<rect x="143.9" y="1551.8" width="3" height="31.2" fill="#006400"/>
<text x="131.9" y="1197.7" font-size="26" text-anchor="end" textLength="61.9" lengthAdjust="spacingAndGlyphs">ETV6</text>
<text x="131.9" y="1276.8" font-size="26" text-anchor="end" textLength="44.2" lengthAdjust="spacingAndGlyphs">FLI1</text>
<text x="131.9" y="1355.6" font-size="26" text-anchor="end" textLength="109.4" lengthAdjust="spacingAndGlyphs">H3K27ac</text>
<text x="131.9" y="1434.9" font-size="26" text-anchor="end" textLength="64.3" lengthAdjust="spacingAndGlyphs">ATAC</text>
<text x="95.6" y="1500" font-size="26" text-anchor="middle" textLength="44.2" lengthAdjust="spacingAndGlyphs">FLI1</text>
<text x="95.6" y="1531.8" font-size="26" text-anchor="middle" textLength="72.6" lengthAdjust="spacingAndGlyphs">(EW8)</text>
<text x="131.9" y="1573.8" font-size="26" text-anchor="end" textLength="75.1" lengthAdjust="spacingAndGlyphs">GGAA</text>
<text x="158.6" y="1174.1" font-size="25.5" textLength="78.2" lengthAdjust="spacingAndGlyphs">DMSO</text>
<text x="158.3" y="1216.1" font-size="26" textLength="96.5" lengthAdjust="spacingAndGlyphs">dTAG<tspan font-size="18.2" dy="-12" dx="2">V</tspan><tspan dy="12">-1</tspan></text>
<text x="158.6" y="1253.7" font-size="25.5" textLength="78.2" lengthAdjust="spacingAndGlyphs">DMSO</text>
<text x="158.3" y="1296.1" font-size="26" textLength="96.5" lengthAdjust="spacingAndGlyphs">dTAG<tspan font-size="18.2" dy="-12" dx="2">V</tspan><tspan dy="12">-1</tspan></text>
<text x="158.6" y="1333.6" font-size="25.5" textLength="78.2" lengthAdjust="spacingAndGlyphs">DMSO</text>
<text x="158.3" y="1375.8" font-size="26" textLength="96.5" lengthAdjust="spacingAndGlyphs">dTAG<tspan font-size="18.2" dy="-12" dx="2">V</tspan><tspan dy="12">-1</tspan></text>
<text x="158.6" y="1412.9" font-size="25.5" textLength="78.2" lengthAdjust="spacingAndGlyphs">DMSO</text>
<text x="158.3" y="1455" font-size="26" textLength="96.5" lengthAdjust="spacingAndGlyphs">dTAG<tspan font-size="18.2" dy="-12" dx="2">V</tspan><tspan dy="12">-1</tspan></text>
<text x="158.6" y="1492.5" font-size="25.5" textLength="78.2" lengthAdjust="spacingAndGlyphs">DMSO</text>
<text x="158.3" y="1534.8" font-size="26" textLength="96.5" lengthAdjust="spacingAndGlyphs">dTAG<tspan font-size="18.2" dy="-12" dx="2">V</tspan><tspan dy="12">-1</tspan></text>
<text x="158.3" y="1561.3" font-size="25.5" textLength="28" lengthAdjust="spacingAndGlyphs">&gt;4</text>
<text x="158.3" y="1593" font-size="25.5" textLength="72.1" lengthAdjust="spacingAndGlyphs">3 or 4</text>
<line x1="248.7" y1="1596.6" x2="656.7" y2="1596.6" stroke="#000" stroke-width="2.6"/>
<rect x="248.7" y="1592.6" width="3.6" height="8" fill="#000"/>
<rect x="269.6" y="1592.6" width="3.6" height="8" fill="#000"/>
<rect x="280" y="1592.6" width="3.6" height="8" fill="#000"/>
<rect x="310.7" y="1592.6" width="3.6" height="8" fill="#000"/>
<rect x="335.8" y="1592.6" width="3.6" height="8" fill="#000"/>
<rect x="339.3" y="1592.6" width="3.6" height="8" fill="#000"/>
<rect x="347.3" y="1592.6" width="3.6" height="8" fill="#000"/>
<rect x="294" y="1592.6" width="5.2" height="8" fill="#000"/>
<rect x="247" y="1592.6" width="3.6" height="8" fill="#000"/>
<rect x="652.5" y="1592.6" width="4.5" height="5" fill="#000"/>
<path d="M368.8 1596.6 374.4 1592.8 374.4 1600.4 Z" fill="#000"/>
<path d="M397.4 1596.6 403 1592.8 403 1600.4 Z" fill="#000"/>
<path d="M425.3 1596.6 430.9 1592.8 430.9 1600.4 Z" fill="#000"/>
<path d="M453.9 1596.6 459.5 1592.8 459.5 1600.4 Z" fill="#000"/>
<path d="M482.8 1596.6 488.4 1592.8 488.4 1600.4 Z" fill="#000"/>
<path d="M511.4 1596.6 517 1592.8 517 1600.4 Z" fill="#000"/>
<path d="M539 1596.6 544.6 1592.8 544.6 1600.4 Z" fill="#000"/>
<path d="M567.5 1596.6 573.1 1592.8 573.1 1600.4 Z" fill="#000"/>
<path d="M596.1 1596.6 601.7 1592.8 601.7 1600.4 Z" fill="#000"/>
<path d="M624.7 1596.6 630.3 1592.8 630.3 1600.4 Z" fill="#000"/>
<path d="M252.7 1596.6 258.3 1592.8 258.3 1600.4 Z" fill="#000"/>
<line x1="649.7" y1="1604.3" x2="832.7" y2="1604.3" stroke="#000" stroke-width="2.6"/>
<rect x="649.7" y="1599.3" width="6" height="10" fill="#000"/>
<path d="M655 1599.3 661 1604.3 655 1609.3 Z" fill="#000"/>
<path d="M687.6 1604.3 682 1600.5 682 1608.1 Z" fill="#000"/>
<path d="M715.5 1604.3 709.9 1600.5 709.9 1608.1 Z" fill="#000"/>
<rect x="738.5" y="1599.8" width="3.6" height="9" fill="#000"/>
<rect x="771.7" y="1599.8" width="3.6" height="9" fill="#000"/>
<rect x="780.4" y="1599.8" width="3.6" height="9" fill="#000"/>
<rect x="792.6" y="1599.8" width="3.6" height="9" fill="#000"/>
<rect x="811.8" y="1599.8" width="3.6" height="9" fill="#000"/>
<rect x="818.8" y="1599.8" width="13.9" height="9" fill="#000"/>
<text x="430" y="1630.1" font-size="26" textLength="80.2" lengthAdjust="spacingAndGlyphs" font-style="italic">ACTA2</text>
<text x="714.2" y="1630.1" font-size="26" textLength="45.3" lengthAdjust="spacingAndGlyphs" font-style="italic">FAS</text>
<path d="M1019.8 1179.5 1028.8 1179.1 1033.8 1179.5 1036.8 1179.1 1039.8 1179.5 1074.8 1179.3 1079.8 1178.2 1085.8 1179.4 1090.8 1179.4 1091.8 1179.2 1093.8 1169.6 1094.8 1168.4 1097.8 1168.2 1099.8 1168.4 1100.8 1170.1 1102.8 1179.2 1108.8 1178.5 1126.8 1179.5 1134.8 1179.1 1139.8 1179.5 1277.8 1179.5 1280.8 1179 1300.8 1179.5 1343.8 1179.5 1351.8 1179.1 1366.8 1179.5 1445.8 1179.5 1456.8 1179.1 1480.8 1179.5 1485.8 1179 1489.8 1179.5 1498.8 1179.1 1510.8 1179.5 1543.8 1179.1 1606.8 1179.5 1623.8 1179.3 1629.8 1178.3 1638.8 1179.5 1653.8 1179.1 1663.8 1179.5 1667.8 1179.3 1671.8 1178 1678.8 1179.4 1679.8 1178.7 1681.8 1147.8 1682.8 1146.4 1684.8 1146.4 1685.8 1147.2 1686.8 1156.8 1687.8 1177.3 1688.8 1179.5 1702.8 1179.3 1707.8 1177 1712.8 1179.3 1721.8 1179.5 1722.7 1182.5 1019.8 1182.5 Z" fill="#4d4d4d"/>
<path d="M1019.8 1219.5 1065.8 1219.5 1070.8 1218.9 1075.8 1219.5 1090.8 1219.4 1096.8 1218 1100.8 1219.1 1107.8 1219.5 1116.8 1219.1 1258.8 1219.5 1271.8 1219.1 1283.8 1219.5 1330.8 1219.1 1387.8 1219.5 1390.8 1219.1 1417.8 1219.5 1422.8 1219.1 1442.8 1219.5 1447.8 1219.1 1450.8 1219.5 1473.8 1219.1 1517.8 1219.5 1522.8 1219 1526.8 1219.5 1576.8 1219.1 1579.8 1219.5 1672.8 1219.5 1679.8 1219.4 1683.8 1218.4 1693.8 1219.4 1721.8 1219.2 1722.7 1222.5 1019.8 1222.5 Z" fill="#4d4d4d"/>
<path d="M1019.8 1258.8 1079.8 1258.8 1087.8 1258.1 1092.8 1255.7 1097.8 1258.1 1100.8 1258.7 1107.8 1257.1 1114.8 1258.6 1125.8 1258.8 1146.8 1258.8 1149.8 1258.4 1154.8 1258.8 1225.8 1258.4 1312.8 1258.8 1321.8 1258.2 1327.8 1258.8 1359.8 1258.4 1362.8 1258.8 1451.8 1258.8 1455.8 1258.4 1478.8 1258.8 1486.8 1258.4 1520.8 1258.8 1533.8 1258.3 1550.8 1258.8 1660.8 1258.8 1663.8 1258.4 1677.8 1258.8 1678.8 1257.6 1680.8 1241.8 1681.8 1239.2 1682.8 1238.8 1685.8 1239 1686.8 1240.9 1688.8 1256.7 1689.8 1258.7 1721.8 1258.8 1722.7 1261.8 1019.8 1261.8 Z" fill="#8b0000"/>
<path d="M1019.8 1298.8 1084.8 1299 1087.8 1298.5 1091.8 1296.1 1092.8 1296 1098.8 1298.8 1109.8 1299.1 1121.8 1298.7 1157.8 1299.1 1161.8 1298.6 1166.8 1299.1 1206.8 1298.7 1269.8 1299.1 1272.8 1298.7 1362.8 1299.1 1383.8 1298.6 1393.8 1299.1 1445.8 1299.1 1455.8 1298.6 1460.8 1299.1 1487.8 1298.7 1494.8 1299.1 1524.8 1298.7 1544.8 1299.1 1547.8 1298.6 1552.8 1299.1 1595.8 1299.1 1602.8 1298.6 1607.8 1299.1 1618.8 1298.7 1677.8 1299.1 1678.8 1298 1680.8 1272.5 1681.8 1269.4 1684.8 1269 1685.8 1269.1 1686.8 1271.3 1688.8 1296.7 1689.8 1298.9 1721.8 1298.7 1722.7 1302.1 1019.8 1302.1 Z" fill="#8b0000"/>
<path d="M1019.8 1338.6 1073.8 1338.8 1075.8 1338.5 1079.8 1336.8 1084.8 1338.3 1085.8 1337.6 1087.8 1332 1088.8 1330.7 1090.8 1330.8 1091.8 1328.5 1092.8 1319.2 1093.8 1317.5 1094.8 1318.6 1095.8 1318.8 1096.8 1321 1097.8 1330.3 1098.8 1332.1 1099.8 1326.5 1100.8 1324.1 1102.8 1323.6 1104.8 1320.8 1105.8 1322.8 1107.8 1332.2 1109.8 1333.8 1111.8 1338.1 1120.8 1338.8 1125.8 1338.4 1132.8 1338.8 1176.8 1338.8 1179.8 1338.4 1185.8 1338.8 1191.8 1338.4 1276.8 1338.8 1281.8 1338.3 1286.8 1338.8 1303.8 1338.4 1322.8 1338.8 1326.8 1338.4 1335.8 1338.8 1358.8 1338.4 1395.8 1338.8 1401.8 1338.4 1407.8 1338.8 1465.8 1338.8 1469.8 1338.4 1477.8 1338.8 1508.8 1338.4 1570.8 1338.8 1580.8 1338.4 1614.8 1338.8 1622.8 1338.3 1624.8 1337.6 1627.8 1335.2 1629.8 1334.6 1634.8 1338 1636.8 1338.7 1678.8 1338.8 1681.8 1338 1686.8 1334.7 1688.8 1335.4 1692.8 1338.2 1694.8 1338.7 1721.8 1338.6 1722.7 1341.8 1019.8 1341.8 Z" fill="#006400"/>
<path d="M1019.8 1378.6 1072.8 1378.9 1075.8 1378.4 1079.8 1375.9 1084.8 1378.6 1085.8 1377.7 1087.8 1370.7 1088.8 1369 1090.8 1368.9 1091.8 1365.7 1092.8 1353.2 1093.8 1350.4 1094.8 1351.7 1095.8 1352 1096.8 1354.6 1097.8 1364.7 1098.8 1366.9 1099.8 1362.9 1100.8 1362 1103.8 1361.7 1104.8 1362.4 1106.8 1371.8 1107.8 1372.7 1109.8 1373.3 1112.8 1378.8 1238.8 1378.9 1243.8 1378.5 1269.8 1378.9 1275.8 1378.5 1280.8 1378.9 1328.8 1378.5 1347.8 1378.9 1393.8 1377.6 1452.8 1378.9 1505.8 1378.8 1550.8 1377.7 1617.8 1378.8 1623.8 1378.6 1626.8 1374.3 1630.8 1373.8 1631.8 1374 1634.8 1378.4 1635.8 1378.7 1670.8 1378.9 1672.8 1378 1674.8 1375.1 1676.8 1373.8 1679.8 1373.7 1682.8 1376.6 1685.8 1370 1686.8 1369.6 1688.8 1370.1 1691.8 1377.9 1701.8 1376.9 1711.8 1378.7 1721.8 1378.5 1722.7 1381.9 1019.8 1381.9 Z" fill="#006400"/>
<path d="M1019.8 1418.2 1075.8 1418.5 1076.8 1418.2 1077.8 1413 1078.8 1411 1079.8 1411 1080.8 1411 1081.8 1413 1082.8 1418.2 1087.8 1418.3 1091.8 1409.2 1092.8 1408.7 1095.8 1408.9 1097.8 1393.2 1099.8 1397.9 1100.8 1398.6 1101.8 1402.6 1102.8 1417.9 1103.8 1418.5 1105.8 1418.2 1109.8 1415.7 1110.8 1415.6 1114.8 1418.2 1118.8 1418.6 1124.8 1418.4 1127.8 1416.5 1131.8 1418.5 1146.8 1418.6 1171.8 1418.2 1311.8 1418.6 1316.8 1418.2 1328.8 1418.6 1343.8 1418.2 1353.8 1418.6 1423.8 1418.6 1427.8 1418.2 1432.8 1418.6 1489.8 1418.2 1608.8 1418.6 1613.8 1418.2 1622.8 1418.5 1624.8 1418.3 1628.8 1415.7 1629.8 1415.7 1633.8 1418 1636.8 1418.6 1655.8 1418.4 1657.8 1417.9 1659.8 1416.4 1663.8 1418.5 1675.8 1418.6 1677.8 1418.5 1678.8 1417.8 1680.8 1414.4 1681.8 1413.7 1683.8 1413.6 1686.8 1414.2 1689.8 1418.3 1703.8 1418.5 1707.8 1414.2 1708.8 1414.6 1711.8 1418.4 1721.8 1418.6 1722.7 1421.6 1019.8 1421.6 Z" fill="#7e2ad6"/>
<path d="M1019.8 1458.7 1035.8 1458.3 1038.8 1458.7 1075.8 1458.7 1076.8 1458.2 1077.8 1451.3 1078.8 1448.8 1079.8 1448.7 1080.8 1448.8 1081.8 1451.3 1082.8 1458.2 1083.8 1458.7 1087.8 1458.3 1088.8 1456.6 1091.8 1447.5 1092.8 1446.8 1095.8 1447 1097.8 1428.2 1099.8 1433.9 1100.8 1434.7 1101.8 1439.5 1102.8 1458 1103.8 1458.6 1105.8 1458.3 1109.8 1454.5 1110.8 1454.6 1114.8 1458.1 1118.8 1458.7 1124.8 1458.5 1127.8 1456.5 1130.8 1458 1141.8 1458.7 1176.8 1458.7 1180.8 1458.3 1189.8 1458.7 1269.8 1458.7 1290.8 1458.2 1293.8 1458.7 1413.8 1458.7 1418.8 1458.3 1421.8 1458.7 1442.8 1458.7 1465.8 1458.2 1469.8 1458.7 1502.8 1458.3 1507.8 1458.7 1563.8 1458.7 1577.8 1458.2 1582.8 1458.7 1654.8 1458.7 1656.8 1458.5 1659.8 1456.6 1662.8 1458.4 1664.8 1458.7 1666.8 1458.1 1669.8 1455.7 1673.8 1458.2 1675.8 1458.6 1676.8 1458.4 1677.8 1456.7 1679.8 1450.2 1680.8 1449 1683.8 1448.5 1686.8 1448.9 1687.8 1449.9 1690.8 1458.3 1691.8 1458.7 1703.8 1458.7 1704.8 1457.2 1705.8 1451.1 1706.8 1449.6 1707.8 1449.6 1709.8 1450.6 1711.8 1458.7 1721.8 1458.6 1722.7 1461.7 1019.8 1461.7 Z" fill="#7e2ad6"/>
<path d="M1019.8 1498.5 1083.8 1498.7 1087.8 1498.3 1092.8 1496.6 1097.8 1498.3 1102.8 1498.7 1196.8 1498.3 1201.8 1498.7 1282.8 1498.7 1287.8 1498.3 1355.8 1498.7 1358.8 1498.2 1368.8 1498.7 1379.8 1498.3 1383.8 1498.7 1399.8 1498.3 1469.8 1498.7 1475.8 1498.2 1483.8 1498.7 1540.8 1498.3 1587.8 1498.7 1609.8 1498.2 1612.8 1498.7 1631.8 1498.3 1673.8 1498.7 1678.8 1498.1 1680.8 1490.5 1681.8 1488 1682.8 1487.5 1685.8 1488 1686.8 1489.9 1688.8 1497.9 1689.8 1498.5 1709.8 1498.7 1721.8 1498.2 1722.7 1501.7 1019.8 1501.7 Z" fill="#8b0000"/>
<path d="M1019.8 1538.3 1047.8 1538.3 1051.8 1537.9 1055.8 1538.3 1082.8 1538.2 1087.8 1537.5 1092.8 1535.1 1094.8 1535.7 1097.8 1537.7 1103.8 1538.3 1148.8 1537.9 1151.8 1538.3 1259.8 1538.3 1262.8 1537.9 1307.8 1538.3 1311.8 1537.9 1322.8 1538.3 1335.8 1537.9 1340.8 1538.3 1530.8 1538.3 1534.8 1538 1538.8 1536.3 1542.8 1537.9 1546.8 1538.3 1557.8 1538.2 1562.8 1536.3 1566.8 1537.8 1572.8 1538.3 1677.8 1538.3 1678.8 1538 1680.8 1518.2 1681.8 1512.9 1682.8 1512.3 1684.8 1512.2 1685.8 1512.5 1686.8 1516.4 1688.8 1537.5 1689.8 1538.3 1721.8 1538.3 1722.7 1541.3 1019.8 1541.3 Z" fill="#8b0000"/>
<line x1="1026.5" y1="1095.9" x2="1714.7" y2="1095.9" stroke="#000" stroke-width="9.4" stroke-linecap="round"/>
<path d="M1025.5 1093.9 1035.5 1098.9 1033.5 1103.4 1026.5 1100.9 Z" fill="#000"/>
<path d="M1705.7 1089.4 1716.7 1094.9 1716.7 1098.9 1707.7 1100.9 Z" fill="#000"/>
<rect x="1080.5" y="1085.9" width="5.6" height="8" fill="#000"/>
<rect x="1208.7" y="1085.9" width="5.6" height="8" fill="#000"/>
<rect x="1336.2" y="1085.9" width="5.6" height="8" fill="#000"/>
<rect x="1463.6" y="1085.9" width="5.6" height="8" fill="#000"/>
<rect x="1591.1" y="1085.9" width="5.6" height="8" fill="#000"/>
<rect x="1144.7" y="1097.9" width="5.6" height="8" fill="#000"/>
<rect x="1272.4" y="1097.9" width="5.6" height="8" fill="#000"/>
<rect x="1400" y="1097.9" width="5.6" height="8" fill="#000"/>
<rect x="1527.5" y="1097.9" width="5.6" height="8" fill="#000"/>
<rect x="1654.8" y="1097.9" width="5.6" height="8" fill="#000"/>
<text x="1031.1" y="1076.7" font-size="26" textLength="127.3" lengthAdjust="spacingAndGlyphs">126.44 Mb</text>
<text x="1177.4" y="1076.7" font-size="26" textLength="79.7" lengthAdjust="spacingAndGlyphs">126.46</text>
<text x="1305.3" y="1076.7" font-size="26" textLength="78.7" lengthAdjust="spacingAndGlyphs">126.48</text>
<text x="1433.8" y="1076.7" font-size="26" textLength="63" lengthAdjust="spacingAndGlyphs">126.5</text>
<text x="1560.8" y="1076.7" font-size="26" textLength="78.2" lengthAdjust="spacingAndGlyphs">126.52</text>
<text x="1113.4" y="1134.8" font-size="26" textLength="79.2" lengthAdjust="spacingAndGlyphs">126.45</text>
<text x="1241.9" y="1134.8" font-size="26" textLength="77.1" lengthAdjust="spacingAndGlyphs">126.47</text>
<text x="1368.8" y="1134.8" font-size="26" textLength="79.8" lengthAdjust="spacingAndGlyphs">126.49</text>
<text x="1496.8" y="1134.8" font-size="26" textLength="74.2" lengthAdjust="spacingAndGlyphs">126.51</text>
<text x="1623.8" y="1134.8" font-size="26" textLength="79.2" lengthAdjust="spacingAndGlyphs">126.53</text>
<text x="982.6" y="1071.7" font-size="40.5" font-weight="bold" stroke="#000" stroke-width="1.1">f</text>
<rect x="1200.5" y="1545" width="3.6" height="11.4" fill="#006400"/>
<rect x="1561.2" y="1545" width="3.6" height="11.4" fill="#006400"/>
<rect x="1682.6" y="1545" width="3.6" height="11.4" fill="#006400"/>
<rect x="1354.1" y="1564" width="3.8" height="10.5" fill="#006400"/>
<rect x="1368.2" y="1564" width="3.8" height="10.5" fill="#006400"/>
<rect x="1682.1" y="1564" width="3.8" height="10.5" fill="#006400"/>
<g fill="#000">
<line x1="1099.3" y1="1582.1" x2="1151.8" y2="1582.1" stroke="#000" stroke-width="2.6"/>
<line x1="1110.9" y1="1590" x2="1152.8" y2="1590" stroke="#000" stroke-width="2.6"/>
<line x1="1119.8" y1="1597.9" x2="1152.8" y2="1597.9" stroke="#000" stroke-width="2.6"/>
<rect x="1099.3" y="1578.4" width="7.4" height="6.9" fill="#000"/>
<rect x="1117.9" y="1578.4" width="3.9" height="16.2" fill="#000"/>
<rect x="1135.6" y="1578.4" width="5.4" height="23.7" fill="#000"/>
<rect x="1140.7" y="1579" width="11.1" height="5.9" fill="#000"/>
<rect x="1110.9" y="1587.2" width="3.7" height="5.6" fill="#000"/>
<rect x="1140.7" y="1587.5" width="12.1" height="5.1" fill="#000"/>
<rect x="1119.8" y="1595.1" width="3.7" height="5.6" fill="#000"/>
<rect x="1140.7" y="1595.1" width="12.1" height="5.6" fill="#000"/>
</g>
<text x="1166.2" y="1597.7" font-size="26" textLength="64.2" lengthAdjust="spacingAndGlyphs" font-style="italic">TRIB1</text>
<text x="4.6" y="1691" font-size="40.5" font-weight="bold" stroke="#000" stroke-width="1.1">g</text>
<text x="584.2" y="1731.5" font-size="26" text-anchor="middle" textLength="282.8" lengthAdjust="spacingAndGlyphs">ETV6-repressed genes</text>
<line x1="233.6" y1="1748.2" x2="934.8" y2="1748.2" stroke="#000" stroke-width="3"/>
<text x="1059.2" y="1700" font-size="26" text-anchor="middle" textLength="125.5" lengthAdjust="spacingAndGlyphs">Not ETV6-</text>
<text x="1059.2" y="1731.5" font-size="26" text-anchor="middle" textLength="124.5" lengthAdjust="spacingAndGlyphs">repressed</text>
<line x1="990.6" y1="1748.2" x2="1127.6" y2="1748.2" stroke="#000" stroke-width="3"/>
<line x1="243.4" y1="1807.9" x2="243.4" y2="2004.1" stroke="#444" stroke-width="1.5"/>
<line x1="243.4" y1="2004.1" x2="374.8" y2="2004.1" stroke="#000" stroke-width="1.6"/>
<line x1="234.4" y1="2004.1" x2="243.4" y2="2004.1" stroke="#444" stroke-width="1.5"/>
<text x="223.8" y="2011.4" font-size="20.5" text-anchor="end" textLength="12.8" lengthAdjust="spacingAndGlyphs">0</text>
<line x1="234.4" y1="1964.9" x2="243.4" y2="1964.9" stroke="#444" stroke-width="1.5"/>
<text x="223.8" y="1972.2" font-size="20.5" text-anchor="end" textLength="12.8" lengthAdjust="spacingAndGlyphs">1</text>
<line x1="234.4" y1="1925.6" x2="243.4" y2="1925.6" stroke="#444" stroke-width="1.5"/>
<text x="223.8" y="1932.9" font-size="20.5" text-anchor="end" textLength="12.8" lengthAdjust="spacingAndGlyphs">2</text>
<line x1="234.4" y1="1886.4" x2="243.4" y2="1886.4" stroke="#444" stroke-width="1.5"/>
<text x="223.8" y="1893.7" font-size="20.5" text-anchor="end" textLength="12.8" lengthAdjust="spacingAndGlyphs">3</text>
<line x1="234.4" y1="1847.1" x2="243.4" y2="1847.1" stroke="#444" stroke-width="1.5"/>
<text x="223.8" y="1854.4" font-size="20.5" text-anchor="end" textLength="12.8" lengthAdjust="spacingAndGlyphs">4</text>
<line x1="234.4" y1="1807.9" x2="243.4" y2="1807.9" stroke="#444" stroke-width="1.5"/>
<text x="223.8" y="1815.2" font-size="20.5" text-anchor="end" textLength="12.8" lengthAdjust="spacingAndGlyphs">5</text>
<path d="M255.4 2004.1V1966.3H271.9V2004.1" fill="none" stroke="#000" stroke-width="2.8"/>
<path d="M285.6 2004.1V1854.4H302.1V2004.1" fill="none" stroke="#e8321e" stroke-width="2.8"/>
<path d="M315.8 2004.1V1985.9H332.3V2004.1" fill="none" stroke="#000" stroke-width="2.8"/>
<path d="M345.8 2004.1V1972.1H362.3V2004.1" fill="none" stroke="#e8321e" stroke-width="2.8"/>
<circle cx="258.6" cy="1966.8" r="4.2" fill="#000"/>
<circle cx="269.6" cy="1964.1" r="4.2" fill="#000"/>
<circle cx="288.5" cy="1857" r="4.2" fill="#e8321e"/>
<circle cx="299.5" cy="1851.1" r="4.2" fill="#e8321e"/>
<path d="M318.5 1980.7 323.3 1989.3 313.8 1989.3 Z" fill="#000"/>
<path d="M329.5 1978.4 334.3 1986.9 324.8 1986.9 Z" fill="#000"/>
<path d="M348.5 1966.6 353.3 1975.2 343.8 1975.2 Z" fill="#e8321e"/>
<path d="M359.5 1964.7 364.3 1973.2 354.8 1973.2 Z" fill="#e8321e"/>
<text x="306" y="1783.8" font-size="26" text-anchor="middle" textLength="45.7" lengthAdjust="spacingAndGlyphs" font-style="italic">FAS</text>
<rect x="256.3" y="2010.4" width="47" height="7" fill="#000"/>
<rect x="315.6" y="2010.4" width="48.8" height="7" fill="#1f1fff"/>
<text x="258.9" y="2041.5" font-size="26" text-anchor="middle" textLength="89.5" lengthAdjust="spacingAndGlyphs">sgChr2</text>
<text x="348.7" y="2041.5" font-size="26" text-anchor="middle" textLength="64.4" lengthAdjust="spacingAndGlyphs">sgFLI</text>
<line x1="436.9" y1="1807.9" x2="436.9" y2="2004.1" stroke="#444" stroke-width="1.5"/>
<line x1="436.9" y1="2004.1" x2="568.3" y2="2004.1" stroke="#000" stroke-width="1.6"/>
<line x1="427.9" y1="2004.1" x2="436.9" y2="2004.1" stroke="#444" stroke-width="1.5"/>
<text x="417.3" y="2011.4" font-size="20.5" text-anchor="end" textLength="12.8" lengthAdjust="spacingAndGlyphs">0</text>
<line x1="427.9" y1="1964.9" x2="436.9" y2="1964.9" stroke="#444" stroke-width="1.5"/>
<text x="417.3" y="1972.2" font-size="20.5" text-anchor="end" textLength="12.8" lengthAdjust="spacingAndGlyphs">1</text>
<line x1="427.9" y1="1925.6" x2="436.9" y2="1925.6" stroke="#444" stroke-width="1.5"/>
<text x="417.3" y="1932.9" font-size="20.5" text-anchor="end" textLength="12.8" lengthAdjust="spacingAndGlyphs">2</text>
<line x1="427.9" y1="1886.4" x2="436.9" y2="1886.4" stroke="#444" stroke-width="1.5"/>
<text x="417.3" y="1893.7" font-size="20.5" text-anchor="end" textLength="12.8" lengthAdjust="spacingAndGlyphs">3</text>
<line x1="427.9" y1="1847.1" x2="436.9" y2="1847.1" stroke="#444" stroke-width="1.5"/>
<text x="417.3" y="1854.4" font-size="20.5" text-anchor="end" textLength="12.8" lengthAdjust="spacingAndGlyphs">4</text>
<line x1="427.9" y1="1807.9" x2="436.9" y2="1807.9" stroke="#444" stroke-width="1.5"/>
<text x="417.3" y="1815.2" font-size="20.5" text-anchor="end" textLength="12.8" lengthAdjust="spacingAndGlyphs">5</text>
<path d="M448.9 2004.1V1966.3H465.4V2004.1" fill="none" stroke="#000" stroke-width="2.8"/>
<path d="M479.1 2004.1V1840.7H495.6V2004.1" fill="none" stroke="#e8321e" stroke-width="2.8"/>
<path d="M509.3 2004.1V1969H525.8V2004.1" fill="none" stroke="#000" stroke-width="2.8"/>
<path d="M539.3 2004.1V1943.9H555.8V2004.1" fill="none" stroke="#e8321e" stroke-width="2.8"/>
<circle cx="452" cy="1965.6" r="4.2" fill="#000"/>
<circle cx="463" cy="1964.5" r="4.2" fill="#000"/>
<circle cx="487.5" cy="1835.4" r="4.2" fill="#e8321e"/>
<circle cx="487.5" cy="1843.2" r="4.2" fill="#e8321e"/>
<path d="M512 1963.5 516.8 1972 507.3 1972 Z" fill="#000"/>
<path d="M523 1961.1 527.8 1969.7 518.3 1969.7 Z" fill="#000"/>
<path d="M547.5 1932.1 552.3 1940.6 542.8 1940.6 Z" fill="#e8321e"/>
<path d="M547.5 1939.9 552.3 1948.5 542.8 1948.5 Z" fill="#e8321e"/>
<text x="497.7" y="1783.8" font-size="26" text-anchor="middle" textLength="82" lengthAdjust="spacingAndGlyphs" font-style="italic">ACTA2</text>
<rect x="446.3" y="2010.4" width="48.1" height="7" fill="#000"/>
<rect x="509.8" y="2010.4" width="47.4" height="7" fill="#1f1fff"/>
<text x="449.5" y="2041.5" font-size="26" text-anchor="middle" textLength="89.5" lengthAdjust="spacingAndGlyphs">sgChr2</text>
<text x="541.7" y="2041.5" font-size="26" text-anchor="middle" textLength="64.4" lengthAdjust="spacingAndGlyphs">sgFLI</text>
<line x1="617.5" y1="1807.9" x2="617.5" y2="2004.1" stroke="#444" stroke-width="1.5"/>
<line x1="617.5" y1="2004.1" x2="748.9" y2="2004.1" stroke="#000" stroke-width="1.6"/>
<line x1="608.5" y1="2004.1" x2="617.5" y2="2004.1" stroke="#444" stroke-width="1.5"/>
<text x="597.9" y="2011.4" font-size="20.5" text-anchor="end" textLength="12.8" lengthAdjust="spacingAndGlyphs">0</text>
<line x1="608.5" y1="1938.7" x2="617.5" y2="1938.7" stroke="#444" stroke-width="1.5"/>
<text x="597.9" y="1946" font-size="20.5" text-anchor="end" textLength="12.8" lengthAdjust="spacingAndGlyphs">1</text>
<line x1="608.5" y1="1873.3" x2="617.5" y2="1873.3" stroke="#444" stroke-width="1.5"/>
<text x="597.9" y="1880.6" font-size="20.5" text-anchor="end" textLength="12.8" lengthAdjust="spacingAndGlyphs">2</text>
<line x1="608.5" y1="1807.9" x2="617.5" y2="1807.9" stroke="#444" stroke-width="1.5"/>
<text x="597.9" y="1815.2" font-size="20.5" text-anchor="end" textLength="12.8" lengthAdjust="spacingAndGlyphs">3</text>
<path d="M629.5 2004.1V1940.1H646V2004.1" fill="none" stroke="#000" stroke-width="2.8"/>
<path d="M659.7 2004.1V1842H676.2V2004.1" fill="none" stroke="#e8321e" stroke-width="2.8"/>
<path d="M689.9 2004.1V1954.5H706.4V2004.1" fill="none" stroke="#000" stroke-width="2.8"/>
<path d="M719.9 2004.1V1946.6H736.4V2004.1" fill="none" stroke="#e8321e" stroke-width="2.8"/>
<circle cx="632.6" cy="1940.7" r="4.2" fill="#000"/>
<circle cx="643.6" cy="1936.7" r="4.2" fill="#000"/>
<circle cx="668.1" cy="1834.1" r="4.2" fill="#e8321e"/>
<circle cx="668.1" cy="1845.2" r="4.2" fill="#e8321e"/>
<path d="M692.6 1949.1 697.4 1957.6 687.9 1957.6 Z" fill="#000"/>
<path d="M703.6 1946.5 708.4 1955 698.9 1955 Z" fill="#000"/>
<path d="M722.6 1941.2 727.4 1949.8 717.9 1949.8 Z" fill="#e8321e"/>
<path d="M733.6 1938.6 738.4 1947.2 728.9 1947.2 Z" fill="#e8321e"/>
<text x="685.5" y="1783.8" font-size="26" text-anchor="middle" textLength="66.2" lengthAdjust="spacingAndGlyphs" font-style="italic">TRIB1</text>
<rect x="631.5" y="2010.4" width="48.1" height="7" fill="#000"/>
<rect x="690.8" y="2010.4" width="48.8" height="7" fill="#1f1fff"/>
<text x="635" y="2041.5" font-size="26" text-anchor="middle" textLength="89.5" lengthAdjust="spacingAndGlyphs">sgChr2</text>
<text x="723.9" y="2041.5" font-size="26" text-anchor="middle" textLength="64.4" lengthAdjust="spacingAndGlyphs">sgFLI</text>
<line x1="808.3" y1="1807.9" x2="808.3" y2="2004.1" stroke="#444" stroke-width="1.5"/>
<line x1="808.3" y1="2004.1" x2="939.7" y2="2004.1" stroke="#000" stroke-width="1.6"/>
<line x1="799.3" y1="2004.1" x2="808.3" y2="2004.1" stroke="#444" stroke-width="1.5"/>
<text x="788.7" y="2011.4" font-size="20.5" text-anchor="end" textLength="12.8" lengthAdjust="spacingAndGlyphs">0</text>
<line x1="799.3" y1="1938.7" x2="808.3" y2="1938.7" stroke="#444" stroke-width="1.5"/>
<text x="788.7" y="1946" font-size="20.5" text-anchor="end" textLength="12.8" lengthAdjust="spacingAndGlyphs">5</text>
<line x1="799.3" y1="1873.3" x2="808.3" y2="1873.3" stroke="#444" stroke-width="1.5"/>
<text x="788.7" y="1880.6" font-size="20.5" text-anchor="end" textLength="25.5" lengthAdjust="spacingAndGlyphs">10</text>
<line x1="799.3" y1="1807.9" x2="808.3" y2="1807.9" stroke="#444" stroke-width="1.5"/>
<text x="788.7" y="1815.2" font-size="20.5" text-anchor="end" textLength="25.5" lengthAdjust="spacingAndGlyphs">15</text>
<path d="M820.3 2004.1V1992.4H836.8V2004.1" fill="none" stroke="#000" stroke-width="2.8"/>
<path d="M850.5 2004.1V1890.4H867V2004.1" fill="none" stroke="#e8321e" stroke-width="2.8"/>
<path d="M880.7 2004.1V2003.5H897.2V2004.1" fill="none" stroke="#000" stroke-width="2.8"/>
<path d="M910.7 2004.1V1993.7H927.2V2004.1" fill="none" stroke="#e8321e" stroke-width="2.8"/>
<circle cx="823.4" cy="1992.3" r="4.2" fill="#000"/>
<circle cx="834.4" cy="1989.7" r="4.2" fill="#000"/>
<circle cx="853.4" cy="1892.9" r="4.2" fill="#e8321e"/>
<circle cx="864.4" cy="1882.5" r="4.2" fill="#e8321e"/>
<path d="M883.4 1997.5 888.2 2006 878.7 2006 Z" fill="#000"/>
<path d="M894.4 1996.2 899.2 2004.7 889.7 2004.7 Z" fill="#000"/>
<path d="M913.4 1987.7 918.2 1996.2 908.7 1996.2 Z" fill="#e8321e"/>
<path d="M924.4 1986.4 929.2 1994.9 919.7 1994.9 Z" fill="#e8321e"/>
<text x="885" y="1783.8" font-size="26" text-anchor="middle" textLength="104.6" lengthAdjust="spacingAndGlyphs" font-style="italic">SEMA5B</text>
<rect x="825" y="2010.4" width="48.8" height="7" fill="#000"/>
<rect x="885" y="2010.4" width="48.8" height="7" fill="#1f1fff"/>
<text x="828.5" y="2041.5" font-size="26" text-anchor="middle" textLength="89.5" lengthAdjust="spacingAndGlyphs">sgChr2</text>
<text x="918.3" y="2041.5" font-size="26" text-anchor="middle" textLength="64.4" lengthAdjust="spacingAndGlyphs">sgFLI</text>
<line x1="997.6" y1="1807.9" x2="997.6" y2="2004.1" stroke="#444" stroke-width="1.5"/>
<line x1="997.6" y1="2004.1" x2="1129" y2="2004.1" stroke="#000" stroke-width="1.6"/>
<line x1="988.6" y1="2004.1" x2="997.6" y2="2004.1" stroke="#444" stroke-width="1.5"/>
<text x="978" y="2011.4" font-size="20.5" text-anchor="end" textLength="12.8" lengthAdjust="spacingAndGlyphs">0</text>
<line x1="988.6" y1="1938.7" x2="997.6" y2="1938.7" stroke="#444" stroke-width="1.5"/>
<text x="978" y="1946" font-size="20.5" text-anchor="end" textLength="12.8" lengthAdjust="spacingAndGlyphs">1</text>
<line x1="988.6" y1="1873.3" x2="997.6" y2="1873.3" stroke="#444" stroke-width="1.5"/>
<text x="978" y="1880.6" font-size="20.5" text-anchor="end" textLength="12.8" lengthAdjust="spacingAndGlyphs">2</text>
<line x1="988.6" y1="1807.9" x2="997.6" y2="1807.9" stroke="#444" stroke-width="1.5"/>
<text x="978" y="1815.2" font-size="20.5" text-anchor="end" textLength="12.8" lengthAdjust="spacingAndGlyphs">3</text>
<path d="M1009.6 2004.1V1940.1H1026.1V2004.1" fill="none" stroke="#000" stroke-width="2.8"/>
<path d="M1039.8 2004.1V1946.6H1056.3V2004.1" fill="none" stroke="#e8321e" stroke-width="2.8"/>
<path d="M1070 2004.1V1989.2H1086.5V2004.1" fill="none" stroke="#000" stroke-width="2.8"/>
<path d="M1100 2004.1V1992.4H1116.5V2004.1" fill="none" stroke="#e8321e" stroke-width="2.8"/>
<circle cx="1018.2" cy="1933.5" r="4.2" fill="#000"/>
<circle cx="1018.2" cy="1943.3" r="4.2" fill="#000"/>
<circle cx="1048.2" cy="1940" r="4.2" fill="#e8321e"/>
<circle cx="1048.2" cy="1948.5" r="4.2" fill="#e8321e"/>
<path d="M1072.8 1983.1 1077.5 1991.7 1068 1991.7 Z" fill="#000"/>
<path d="M1083.8 1981.1 1088.5 1989.7 1079 1989.7 Z" fill="#000"/>
<path d="M1102.8 1986.4 1107.5 1994.9 1098 1994.9 Z" fill="#e8321e"/>
<path d="M1113.8 1984.4 1118.5 1993 1109 1993 Z" fill="#e8321e"/>
<text x="1063.1" y="1783.8" font-size="26" text-anchor="middle" textLength="87.2" lengthAdjust="spacingAndGlyphs" font-style="italic">BCL11B</text>
<rect x="1009.8" y="2010.4" width="48.8" height="7" fill="#000"/>
<rect x="1069.8" y="2010.4" width="48.8" height="7" fill="#1f1fff"/>
<text x="1017.3" y="2041.5" font-size="26" text-anchor="middle" textLength="89.5" lengthAdjust="spacingAndGlyphs">sgChr2</text>
<text x="1103" y="2041.5" font-size="26" text-anchor="middle" textLength="64.4" lengthAdjust="spacingAndGlyphs">sgFLI</text>
<text x="191" y="1905.8" font-size="24" text-anchor="middle" textLength="80" lengthAdjust="spacingAndGlyphs" transform="rotate(-90 191 1905.8)">2<tspan font-size="16" dy="-10">−ΔΔdCt</tspan></text>
<text x="5.2" y="1793.5" font-size="21" textLength="87.2" lengthAdjust="spacingAndGlyphs">sgChr2.2</text>
<circle cx="12.9" cy="1816.9" r="5" fill="#000"/>
<text x="30.7" y="1823.9" font-size="21" textLength="60.7" lengthAdjust="spacingAndGlyphs">DMSO</text>
<circle cx="12.9" cy="1848.3" r="5" fill="#e8321e"/>
<text x="30.7" y="1855.3" font-size="21" textLength="75.7" lengthAdjust="spacingAndGlyphs">dTAG<tspan font-size="13.9" dy="-8.8">V</tspan><tspan dy="8.8">-1</tspan></text>
<text x="5.2" y="1890" font-size="21" textLength="50.6" lengthAdjust="spacingAndGlyphs">sgFLI</text>
<path d="M12.9 1906.8 18.9 1917.6 6.9 1917.6 Z" fill="#000"/>
<text x="30.7" y="1919.8" font-size="21" textLength="60.7" lengthAdjust="spacingAndGlyphs">DMSO</text>
<path d="M12.9 1938.8 18.9 1949.6 6.9 1949.6 Z" fill="#e8321e"/>
<text x="30.7" y="1952" font-size="21" textLength="75.7" lengthAdjust="spacingAndGlyphs">dTAG<tspan font-size="13.9" dy="-8.8">V</tspan><tspan dy="8.8">-1</tspan></text>
<line x1="285.2" y1="2107.5" x2="285.2" y2="2289.9" stroke="#444" stroke-width="1.5"/>
<line x1="285.2" y1="2289.9" x2="345.2" y2="2289.9" stroke="#000" stroke-width="1.6"/>
<line x1="276.2" y1="2289.9" x2="285.2" y2="2289.9" stroke="#444" stroke-width="1.5"/>
<text x="268.2" y="2297.2" font-size="22" text-anchor="end" textLength="13.7" lengthAdjust="spacingAndGlyphs">0</text>
<line x1="276.2" y1="2253.4" x2="285.2" y2="2253.4" stroke="#444" stroke-width="1.5"/>
<text x="268.2" y="2260.7" font-size="22" text-anchor="end" textLength="13.7" lengthAdjust="spacingAndGlyphs">1</text>
<line x1="276.2" y1="2216.9" x2="285.2" y2="2216.9" stroke="#444" stroke-width="1.5"/>
<text x="268.2" y="2224.2" font-size="22" text-anchor="end" textLength="13.7" lengthAdjust="spacingAndGlyphs">2</text>
<line x1="276.2" y1="2180.5" x2="285.2" y2="2180.5" stroke="#444" stroke-width="1.5"/>
<text x="268.2" y="2187.8" font-size="22" text-anchor="end" textLength="13.7" lengthAdjust="spacingAndGlyphs">3</text>
<line x1="276.2" y1="2144" x2="285.2" y2="2144" stroke="#444" stroke-width="1.5"/>
<text x="268.2" y="2151.3" font-size="22" text-anchor="end" textLength="13.7" lengthAdjust="spacingAndGlyphs">4</text>
<line x1="276.2" y1="2107.5" x2="285.2" y2="2107.5" stroke="#444" stroke-width="1.5"/>
<text x="268.2" y="2114.8" font-size="22" text-anchor="end" textLength="13.7" lengthAdjust="spacingAndGlyphs">5</text>
<path d="M295.3 2289.9V2152.7H308.9V2289.9" fill="none" stroke="#000" stroke-width="2.8"/>
<path d="M321.4 2289.9V2231.1H335V2289.9" fill="none" stroke="#1f1fff" stroke-width="2.8"/>
<circle cx="296.6" cy="2153.1" r="4.2" fill="#000"/>
<circle cx="307.6" cy="2147.6" r="4.2" fill="#000"/>
<path d="M322.7 2225.5 327.4 2234.1 317.9 2234.1 Z" fill="#1f1fff"/>
<path d="M333.7 2223.3 338.4 2231.9 328.9 2231.9 Z" fill="#1f1fff"/>
<line x1="463" y1="2107.5" x2="463" y2="2289.9" stroke="#444" stroke-width="1.5"/>
<line x1="463" y1="2289.9" x2="523" y2="2289.9" stroke="#000" stroke-width="1.6"/>
<line x1="454" y1="2289.9" x2="463" y2="2289.9" stroke="#444" stroke-width="1.5"/>
<text x="446" y="2297.2" font-size="22" text-anchor="end" textLength="13.7" lengthAdjust="spacingAndGlyphs">0</text>
<line x1="454" y1="2253.4" x2="463" y2="2253.4" stroke="#444" stroke-width="1.5"/>
<text x="446" y="2260.7" font-size="22" text-anchor="end" textLength="13.7" lengthAdjust="spacingAndGlyphs">1</text>
<line x1="454" y1="2216.9" x2="463" y2="2216.9" stroke="#444" stroke-width="1.5"/>
<text x="446" y="2224.2" font-size="22" text-anchor="end" textLength="13.7" lengthAdjust="spacingAndGlyphs">2</text>
<line x1="454" y1="2180.5" x2="463" y2="2180.5" stroke="#444" stroke-width="1.5"/>
<text x="446" y="2187.8" font-size="22" text-anchor="end" textLength="13.7" lengthAdjust="spacingAndGlyphs">3</text>
<line x1="454" y1="2144" x2="463" y2="2144" stroke="#444" stroke-width="1.5"/>
<text x="446" y="2151.3" font-size="22" text-anchor="end" textLength="13.7" lengthAdjust="spacingAndGlyphs">4</text>
<line x1="454" y1="2107.5" x2="463" y2="2107.5" stroke="#444" stroke-width="1.5"/>
<text x="446" y="2114.8" font-size="22" text-anchor="end" textLength="13.7" lengthAdjust="spacingAndGlyphs">5</text>
<path d="M473.1 2289.9V2138.1H486.7V2289.9" fill="none" stroke="#000" stroke-width="2.8"/>
<path d="M499.2 2289.9V2231.1H512.8V2289.9" fill="none" stroke="#1f1fff" stroke-width="2.8"/>
<circle cx="479.9" cy="2133" r="4.2" fill="#000"/>
<circle cx="479.9" cy="2140.3" r="4.2" fill="#000"/>
<path d="M506 2220.8 510.8 2229.3 501.2 2229.3 Z" fill="#1f1fff"/>
<path d="M506 2229.9 510.8 2238.4 501.2 2238.4 Z" fill="#1f1fff"/>
<line x1="647.9" y1="2107.5" x2="647.9" y2="2289.9" stroke="#444" stroke-width="1.5"/>
<line x1="647.9" y1="2289.9" x2="707.9" y2="2289.9" stroke="#000" stroke-width="1.6"/>
<line x1="638.9" y1="2289.9" x2="647.9" y2="2289.9" stroke="#444" stroke-width="1.5"/>
<text x="630.9" y="2297.2" font-size="22" text-anchor="end" textLength="13.7" lengthAdjust="spacingAndGlyphs">0</text>
<line x1="638.9" y1="2229.1" x2="647.9" y2="2229.1" stroke="#444" stroke-width="1.5"/>
<text x="630.9" y="2236.4" font-size="22" text-anchor="end" textLength="13.7" lengthAdjust="spacingAndGlyphs">1</text>
<line x1="638.9" y1="2168.3" x2="647.9" y2="2168.3" stroke="#444" stroke-width="1.5"/>
<text x="630.9" y="2175.6" font-size="22" text-anchor="end" textLength="13.7" lengthAdjust="spacingAndGlyphs">2</text>
<line x1="638.9" y1="2107.5" x2="647.9" y2="2107.5" stroke="#444" stroke-width="1.5"/>
<text x="630.9" y="2114.8" font-size="22" text-anchor="end" textLength="13.7" lengthAdjust="spacingAndGlyphs">3</text>
<path d="M658 2289.9V2140.5H671.6V2289.9" fill="none" stroke="#000" stroke-width="2.8"/>
<path d="M684.1 2289.9V2221.4H697.7V2289.9" fill="none" stroke="#1f1fff" stroke-width="2.8"/>
<circle cx="664.8" cy="2131.8" r="4.2" fill="#000"/>
<circle cx="664.8" cy="2144" r="4.2" fill="#000"/>
<path d="M685.4 2216.5 690.1 2225.1 680.6 2225.1 Z" fill="#1f1fff"/>
<path d="M696.4 2213.5 701.1 2222 691.6 2222 Z" fill="#1f1fff"/>
<line x1="841.4" y1="2107.5" x2="841.4" y2="2289.9" stroke="#444" stroke-width="1.5"/>
<line x1="841.4" y1="2289.9" x2="901.4" y2="2289.9" stroke="#000" stroke-width="1.6"/>
<line x1="832.4" y1="2289.9" x2="841.4" y2="2289.9" stroke="#444" stroke-width="1.5"/>
<text x="824.4" y="2297.2" font-size="22" text-anchor="end" textLength="13.7" lengthAdjust="spacingAndGlyphs">5</text>
<line x1="832.4" y1="2253.4" x2="841.4" y2="2253.4" stroke="#444" stroke-width="1.5"/>
<text x="824.4" y="2260.7" font-size="22" text-anchor="end" textLength="13.7" lengthAdjust="spacingAndGlyphs">6</text>
<line x1="832.4" y1="2216.9" x2="841.4" y2="2216.9" stroke="#444" stroke-width="1.5"/>
<text x="824.4" y="2224.2" font-size="22" text-anchor="end" textLength="13.7" lengthAdjust="spacingAndGlyphs">7</text>
<line x1="832.4" y1="2180.5" x2="841.4" y2="2180.5" stroke="#444" stroke-width="1.5"/>
<text x="824.4" y="2187.8" font-size="22" text-anchor="end" textLength="13.7" lengthAdjust="spacingAndGlyphs">8</text>
<line x1="832.4" y1="2144" x2="841.4" y2="2144" stroke="#444" stroke-width="1.5"/>
<text x="824.4" y="2151.3" font-size="22" text-anchor="end" textLength="13.7" lengthAdjust="spacingAndGlyphs">9</text>
<line x1="832.4" y1="2107.5" x2="841.4" y2="2107.5" stroke="#444" stroke-width="1.5"/>
<text x="824.4" y="2114.8" font-size="22" text-anchor="end" textLength="27.4" lengthAdjust="spacingAndGlyphs">10</text>
<path d="M851.5 2289.9V2150.9H865.1V2289.9" fill="none" stroke="#000" stroke-width="2.8"/>
<path d="M877.6 2289.9V2243.9H891.2V2289.9" fill="none" stroke="#1f1fff" stroke-width="2.8"/>
<circle cx="858.3" cy="2138.5" r="4.2" fill="#000"/>
<circle cx="858.3" cy="2160.4" r="4.2" fill="#000"/>
<path d="M884.4 2229.9 889.1 2238.4 879.6 2238.4 Z" fill="#1f1fff"/>
<path d="M884.4 2240.8 889.1 2249.4 879.6 2249.4 Z" fill="#1f1fff"/>
<line x1="1029.7" y1="2107.5" x2="1029.7" y2="2289.9" stroke="#444" stroke-width="1.5"/>
<line x1="1029.7" y1="2289.9" x2="1089.7" y2="2289.9" stroke="#000" stroke-width="1.6"/>
<line x1="1020.7" y1="2289.9" x2="1029.7" y2="2289.9" stroke="#444" stroke-width="1.5"/>
<text x="1012.7" y="2297.2" font-size="22" text-anchor="end" textLength="13.7" lengthAdjust="spacingAndGlyphs">0</text>
<line x1="1020.7" y1="2229.1" x2="1029.7" y2="2229.1" stroke="#444" stroke-width="1.5"/>
<text x="1012.7" y="2236.4" font-size="22" text-anchor="end" textLength="13.7" lengthAdjust="spacingAndGlyphs">1</text>
<line x1="1020.7" y1="2168.3" x2="1029.7" y2="2168.3" stroke="#444" stroke-width="1.5"/>
<text x="1012.7" y="2175.6" font-size="22" text-anchor="end" textLength="13.7" lengthAdjust="spacingAndGlyphs">2</text>
<line x1="1020.7" y1="2107.5" x2="1029.7" y2="2107.5" stroke="#444" stroke-width="1.5"/>
<text x="1012.7" y="2114.8" font-size="22" text-anchor="end" textLength="13.7" lengthAdjust="spacingAndGlyphs">3</text>
<path d="M1039.8 2289.9V2237.8H1053.4V2289.9" fill="none" stroke="#000" stroke-width="2.8"/>
<path d="M1065.9 2289.9V2240.8H1079.5V2289.9" fill="none" stroke="#1f1fff" stroke-width="2.8"/>
<circle cx="1046.6" cy="2230.9" r="4.2" fill="#000"/>
<circle cx="1046.6" cy="2240" r="4.2" fill="#000"/>
<path d="M1072.7 2228.1 1077.5 2236.6 1068 2236.6 Z" fill="#1f1fff"/>
<path d="M1072.7 2237.8 1077.5 2246.3 1068 2246.3 Z" fill="#1f1fff"/>
<text x="232.5" y="2198.2" font-size="26" text-anchor="middle" textLength="167.4" lengthAdjust="spacingAndGlyphs" transform="rotate(-90 232.5 2198.2)">Fold increase</text>
<text x="5.2" y="2095.3" font-size="21" textLength="129" lengthAdjust="spacingAndGlyphs">Fold increase</text>
<text x="5.2" y="2120.8" font-size="21" textLength="146.4" lengthAdjust="spacingAndGlyphs">dTAG<tspan font-size="13.9" dy="-8.8">V</tspan><tspan dy="8.8">-1</tspan>/DMSO</text>
<circle cx="12.9" cy="2153.6" r="5.5" fill="#000"/>
<text x="36.6" y="2159.8" font-size="21" textLength="86" lengthAdjust="spacingAndGlyphs">sgChr2.2</text>
<path d="M12.9 2175.7 19.4 2187.4 6.4 2187.4 Z" fill="#1f1fff"/>
<text x="36.6" y="2188.8" font-size="21" textLength="50" lengthAdjust="spacingAndGlyphs">sgFLI</text>
<defs><filter id="bl" x="-20%" y="-50%" width="140%" height="200%"><feGaussianBlur stdDeviation="2.3"/></filter><filter id="noise" x="0" y="0" width="100%" height="100%"><feTurbulence type="fractalNoise" baseFrequency="0.9" numOctaves="1" seed="3"/><feColorMatrix type="saturate" values="0"/><feComponentTransfer><feFuncA type="linear" slope="0.25"/></feComponentTransfer></filter></defs>
<text x="1220.6" y="1691" font-size="40.5" font-weight="bold" stroke="#000" stroke-width="1.1">h</text>
<text x="1355.3" y="1772.3" font-size="26" text-anchor="middle" textLength="112.9" lengthAdjust="spacingAndGlyphs">sgChr2.2</text>
<text x="1495.6" y="1772.3" font-size="26" text-anchor="middle" textLength="75.3" lengthAdjust="spacingAndGlyphs">sgFLI1</text>
<line x1="1298.9" y1="1789.5" x2="1411.8" y2="1789.5" stroke="#000" stroke-width="3"/>
<line x1="1439.7" y1="1789.5" x2="1552.2" y2="1789.5" stroke="#000" stroke-width="3"/>
<text x="1331.6" y="1899.1" font-size="26" textLength="76.3" lengthAdjust="spacingAndGlyphs" transform="rotate(-90 1331.6 1899.1)">DMSO</text>
<text x="1402" y="1900.2" font-size="25" textLength="93.5" lengthAdjust="spacingAndGlyphs" transform="rotate(-90 1402 1900.2)">dTAG<tspan font-size="16.5" dy="-10.5">V</tspan><tspan dy="10.5">-1</tspan></text>
<text x="1469.2" y="1899.1" font-size="26" textLength="76.3" lengthAdjust="spacingAndGlyphs" transform="rotate(-90 1469.2 1899.1)">DMSO</text>
<text x="1542.3" y="1900.2" font-size="25" textLength="93.5" lengthAdjust="spacingAndGlyphs" transform="rotate(-90 1542.3 1900.2)">dTAG<tspan font-size="16.5" dy="-10.5">V</tspan><tspan dy="10.5">-1</tspan></text>
<text x="1221.5" y="1895.9" font-size="26" textLength="44.7" lengthAdjust="spacingAndGlyphs">kDa</text>
<rect x="1281.7" y="1911.7" width="285.6" height="35.4" fill="#b3b3b3"/>
<rect x="1282.5" y="1960.3" width="284.8" height="61" fill="#cbcbcb"/>
<rect x="1283.4" y="2034.8" width="283.9" height="23.6" fill="#cdcdcd"/>
<rect x="1284.7" y="2071.4" width="280.9" height="62.4" fill="#c2c2c2"/>
<rect x="1283.7" y="2145.9" width="283.6" height="30.3" fill="#c6c6c6"/>
<rect x="1284.2" y="2189.4" width="281.4" height="55.1" fill="#cecece"/>
<rect x="1295.2" y="1928" width="53.9" height="9" rx="4.5" fill="#7c7c7c" opacity="1.0" filter="url(#bl)"/>
<rect x="1435" y="1928" width="54" height="9" rx="4.5" fill="#5a5a5a" opacity="1.0" filter="url(#bl)"/>
<rect x="1298.5" y="1993.5" width="51.5" height="10" rx="5" fill="#4a4a4a" opacity="1.0" filter="url(#bl)"/>
<rect x="1366" y="1993" width="52.2" height="10" rx="5" fill="#4e4e4e" opacity="1.0" filter="url(#bl)"/>
<rect x="1434.2" y="1993.5" width="51.4" height="8" rx="4" fill="#9a9a9a" opacity="1.0" filter="url(#bl)"/>
<rect x="1502.4" y="1993" width="50.6" height="7" rx="3.5" fill="#a6a6a6" opacity="1.0" filter="url(#bl)"/>
<rect x="1290" y="2041" width="62.5" height="7" rx="3.5" fill="#787878" opacity="1.0" filter="url(#bl)"/>
<rect x="1361" y="2041" width="62" height="7" rx="3.5" fill="#787878" opacity="1.0" filter="url(#bl)"/>
<rect x="1431.7" y="2041" width="64" height="7" rx="3.5" fill="#787878" opacity="1.0" filter="url(#bl)"/>
<rect x="1500.8" y="2041" width="64" height="7" rx="3.5" fill="#787878" opacity="1.0" filter="url(#bl)"/>
<rect x="1295.2" y="2115.9" width="47.2" height="7" rx="3.5" fill="#aaaaaa" opacity="1.0" filter="url(#bl)"/>
<rect x="1295.2" y="2089.5" width="47.2" height="5" rx="2.5" fill="#b8b8b8" opacity="1.0" filter="url(#bl)"/>
<rect x="1360.9" y="2098" width="52.2" height="12" rx="6" fill="#b4b4b4" opacity="1.0" filter="url(#bl)"/>
<rect x="1361.7" y="2114.7" width="53.1" height="10" rx="5" fill="#050505" opacity="1.0" filter="url(#bl)"/>
<rect x="1360.9" y="2088" width="52.2" height="8" rx="4" fill="#909090" opacity="1.0" filter="url(#bl)"/>
<rect x="1431.7" y="2114.5" width="48.8" height="7" rx="3.5" fill="#888888" opacity="1.0" filter="url(#bl)"/>
<rect x="1497.4" y="2111" width="55.6" height="8" rx="4" fill="#6a6a6a" opacity="1.0" filter="url(#bl)"/>
<rect x="1292" y="2153" width="56" height="6" rx="3" fill="#b0b0b0" opacity="1.0" filter="url(#bl)"/>
<rect x="1292" y="2167" width="56" height="5" rx="2.5" fill="#aaaaaa" opacity="1.0" filter="url(#bl)"/>
<rect x="1362" y="2153" width="54" height="6" rx="3" fill="#999999" opacity="1.0" filter="url(#bl)"/>
<rect x="1362" y="2167" width="54" height="5" rx="2.5" fill="#a8a8a8" opacity="1.0" filter="url(#bl)"/>
<rect x="1434" y="2153" width="54" height="6" rx="3" fill="#b4b4b4" opacity="1.0" filter="url(#bl)"/>
<rect x="1434" y="2167" width="54" height="5" rx="2.5" fill="#a0a0a0" opacity="1.0" filter="url(#bl)"/>
<rect x="1502" y="2153" width="54" height="6" rx="3" fill="#b2b2b2" opacity="1.0" filter="url(#bl)"/>
<rect x="1502" y="2167" width="54" height="5" rx="2.5" fill="#9c9c9c" opacity="1.0" filter="url(#bl)"/>
<rect x="1283.7" y="2145.9" width="283.6" height="30.3" filter="url(#noise)" opacity="0.6"/>
<rect x="1296" y="2209" width="50.6" height="12" rx="6" fill="#767676" opacity="1.0" filter="url(#bl)"/>
<rect x="1296" y="2199.5" width="50.6" height="10" rx="5" fill="#353535" opacity="1.0" filter="url(#bl)"/>
<rect x="1296" y="2220.5" width="50.6" height="11" rx="5.5" fill="#2e2e2e" opacity="1.0" filter="url(#bl)"/>
<rect x="1362.6" y="2209" width="52.2" height="12" rx="6" fill="#767676" opacity="1.0" filter="url(#bl)"/>
<rect x="1362.6" y="2199.5" width="52.2" height="10" rx="5" fill="#353535" opacity="1.0" filter="url(#bl)"/>
<rect x="1362.6" y="2220.5" width="52.2" height="11" rx="5.5" fill="#2e2e2e" opacity="1.0" filter="url(#bl)"/>
<rect x="1432" y="2201.5" width="50" height="7" rx="3.5" fill="#c2c2c2" opacity="1.0" filter="url(#bl)"/>
<rect x="1432" y="2221.5" width="50" height="7" rx="3.5" fill="#c0c0c0" opacity="1.0" filter="url(#bl)"/>
<rect x="1499" y="2201.5" width="53" height="7" rx="3.5" fill="#c2c2c2" opacity="1.0" filter="url(#bl)"/>
<rect x="1499" y="2221.5" width="53" height="7" rx="3.5" fill="#c0c0c0" opacity="1.0" filter="url(#bl)"/>
<rect x="1281.7" y="1911.7" width="285.6" height="35.4" fill="none" stroke="#222" stroke-width="1.5"/>
<rect x="1282.5" y="1960.3" width="284.8" height="61" fill="none" stroke="#222" stroke-width="1.5"/>
<rect x="1283.4" y="2034.8" width="283.9" height="23.6" fill="none" stroke="#222" stroke-width="1.5"/>
<rect x="1284.7" y="2071.4" width="280.9" height="62.4" fill="none" stroke="#222" stroke-width="1.5"/>
<rect x="1283.7" y="2145.9" width="283.6" height="30.3" fill="none" stroke="#222" stroke-width="1.5"/>
<rect x="1284.2" y="2189.4" width="281.4" height="55.1" fill="none" stroke="#222" stroke-width="1.5"/>
<text x="1264.5" y="1922" font-size="26" text-anchor="end" textLength="28.5" lengthAdjust="spacingAndGlyphs">75</text>
<line x1="1272.5" y1="1913.6" x2="1283" y2="1913.6" stroke="#222" stroke-width="1.4"/>
<text x="1264.5" y="1976.1" font-size="26" text-anchor="end" textLength="28.5" lengthAdjust="spacingAndGlyphs">75</text>
<line x1="1272.5" y1="1967.4" x2="1283" y2="1967.4" stroke="#222" stroke-width="1.4"/>
<text x="1264.5" y="2044.5" font-size="26" text-anchor="end" textLength="28.5" lengthAdjust="spacingAndGlyphs">37</text>
<line x1="1272.5" y1="2037" x2="1283" y2="2037" stroke="#222" stroke-width="1.4"/>
<text x="1264.5" y="2132" font-size="26" text-anchor="end" textLength="28.5" lengthAdjust="spacingAndGlyphs">37</text>
<line x1="1272.5" y1="2125" x2="1283" y2="2125" stroke="#222" stroke-width="1.4"/>
<text x="1264.5" y="2162.3" font-size="26" text-anchor="end" textLength="41.7" lengthAdjust="spacingAndGlyphs">150</text>
<line x1="1272.5" y1="2152.8" x2="1283" y2="2152.8" stroke="#222" stroke-width="1.4"/>
<text x="1264.5" y="2251" font-size="26" text-anchor="end" textLength="45.6" lengthAdjust="spacingAndGlyphs">100</text>
<line x1="1272.5" y1="2243.3" x2="1283" y2="2243.3" stroke="#222" stroke-width="1.4"/>
<text x="1578.3" y="1939.5" font-size="26" textLength="230.7" lengthAdjust="spacingAndGlyphs">HA (ETV6–FKBP12)</text>
<text x="1578.3" y="1999.7" font-size="26" textLength="106.5" lengthAdjust="spacingAndGlyphs">EWS–FLI</text>
<text x="1578.3" y="2054" font-size="26" textLength="90.1" lengthAdjust="spacingAndGlyphs">GAPDH</text>
<text x="1578.3" y="2111" font-size="26" textLength="45.6" lengthAdjust="spacingAndGlyphs">FAS</text>
<text x="1578.3" y="2168" font-size="26" textLength="104.5" lengthAdjust="spacingAndGlyphs">SEMA5B</text>
<text x="1578.3" y="2225" font-size="26" textLength="87.4" lengthAdjust="spacingAndGlyphs">BCL11B</text>
<rect x="1694" y="2078.8" width="3" height="92.4" fill="#000"/>
<rect x="1694" y="2190" width="3" height="53.4" fill="#000"/>
<text x="1709" y="2117.8" font-size="26" textLength="71.4" lengthAdjust="spacingAndGlyphs">ETV6-</text>
<text x="1709" y="2148.3" font-size="26" textLength="124.5" lengthAdjust="spacingAndGlyphs">repressed</text>
<text x="1709" y="2208" font-size="26" textLength="125" lengthAdjust="spacingAndGlyphs">Not ETV6-</text>
<text x="1709" y="2239.6" font-size="26" textLength="124.5" lengthAdjust="spacingAndGlyphs">repressed</text>
</svg></body></html>
